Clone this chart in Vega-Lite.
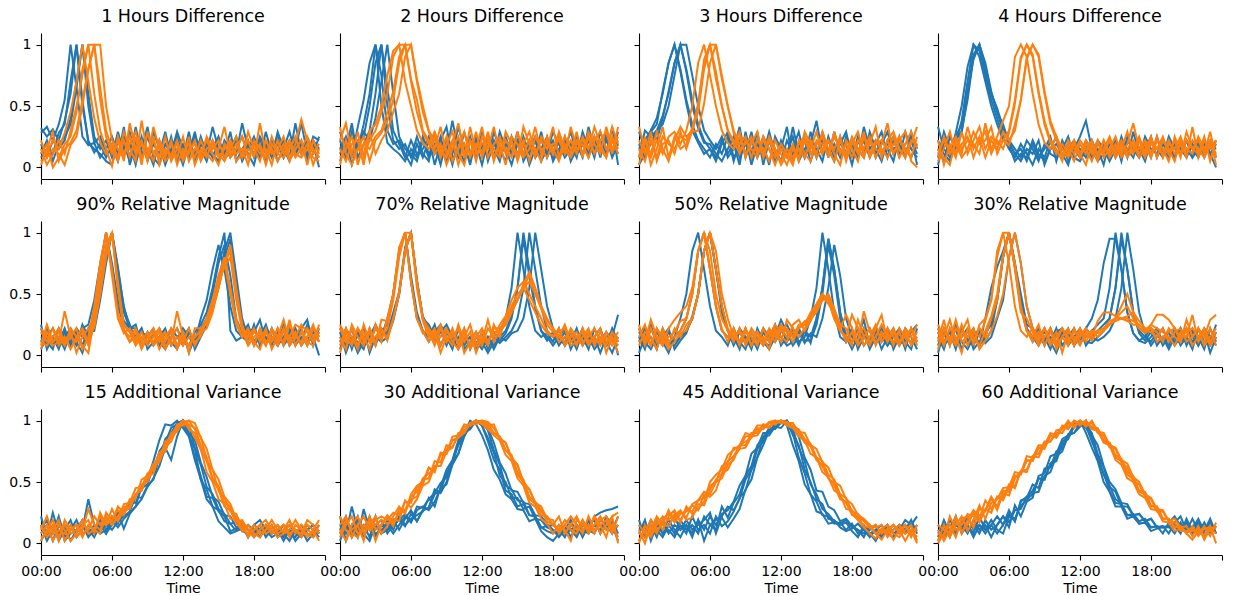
{
"$schema":"https://vega.github.io/schema/vega-lite/v6.json",
"background":"white",
"padding":{"left":8,"top":7,"right":5,"bottom":5},
"bounds":"flush",
"columns":4,
"spacing":{"row":42,"column":15},
"datasets":{
"p1":[
{"t":0,"a":0.28,"b":0.32,"c":0.08,"d":0.19,"e":0.11,"f":0.05,"g":0.15,"h":0.11,"i":0.02,"j":0.22},
{"t":0.5,"a":0.33,"b":0.25,"c":0.15,"d":0.08,"e":0.22,"f":0.11,"g":0.02,"h":0.19,"i":0.15,"j":0.08},
{"t":1,"a":0.22,"b":0.31,"c":0.11,"d":0.22,"e":0.05,"f":0.22,"g":0.11,"h":0,"i":0.29,"j":0.15},
{"t":1.5,"a":0.35,"b":0.22,"c":0.28,"d":0.15,"e":0.19,"f":0.15,"g":0.22,"h":0.08,"i":0.05,"j":0.11},
{"t":2,"a":0.55,"b":0.38,"c":0.35,"d":0.22,"e":0.25,"f":0.28,"g":0.11,"h":0.19,"i":0.15,"j":0.02},
{"t":2.5,"a":1,"b":0.6,"c":0.7,"d":0.4,"e":0.35,"f":0.45,"g":0.3,"h":0.25,"i":0.2,"j":0.18},
{"t":3,"a":0.65,"b":1,"c":1,"d":0.7,"e":0.65,"f":0.7,"g":0.5,"h":0.45,"i":0.3,"j":0.25},
{"t":3.5,"a":0.25,"b":0.55,"c":0.5,"d":1,"e":1,"f":1,"g":0.75,"h":0.8,"i":0.55,"j":0.5},
{"t":4,"a":0.18,"b":0.2,"c":0.22,"d":0.6,"e":0.5,"f":0.7,"g":1,"h":1,"i":0.8,"j":0.8},
{"t":4.5,"a":0.2,"b":0.15,"c":0.12,"d":0.25,"e":0.2,"f":0.4,"g":0.6,"h":1,"i":1,"j":1},
{"t":5,"a":0.08,"b":0.11,"c":0.19,"d":0.15,"e":0.25,"f":0.2,"g":0.3,"h":0.55,"i":0.65,"j":1},
{"t":5.5,"a":0.15,"b":0.05,"c":0.08,"d":0.22,"e":0.11,"f":0.11,"g":0.15,"h":0.25,"i":0.3,"j":0.5},
{"t":6,"a":0.25,"b":0.02,"c":0.19,"d":0.08,"e":0.15,"f":0.19,"g":0.01,"h":0.11,"i":0.15,"j":0.22},
{"t":6.5,"a":0.11,"b":0.22,"c":0.05,"d":0.29,"e":0.08,"f":0.08,"g":0.25,"h":0.22,"i":0.05,"j":0.15},
{"t":7,"a":0.19,"b":0.15,"c":0.25,"d":0.11,"e":0.33,"f":0.29,"g":0.11,"h":0.05,"i":0.22,"j":0.08},
{"t":7.5,"a":0.05,"b":0.29,"c":0.08,"d":0.19,"e":0.02,"f":0.15,"g":0.19,"h":0.36,"i":0.08,"j":0.25},
{"t":8,"a":0.22,"b":0.08,"c":0.33,"d":0.02,"e":0.19,"f":0.05,"g":0.29,"h":0.15,"i":0.25,"j":0.11},
{"t":8.5,"a":0.15,"b":0.25,"c":0.11,"d":0.22,"e":0.08,"f":0.38,"g":0.08,"h":0.22,"i":0.02,"j":0.19},
{"t":9,"a":0.33,"b":0.05,"c":0.15,"d":0.08,"e":0.25,"f":0.11,"g":0.15,"h":0.05,"i":0.29,"j":0.08},
{"t":9.5,"a":0.08,"b":0.19,"c":0.02,"d":0.29,"e":0.11,"f":0.22,"g":0.05,"h":0.25,"i":0.11,"j":0.33},
{"t":10,"a":0.02,"b":0.11,"c":0.22,"d":0.15,"e":0.19,"f":0.08,"g":0.22,"h":0.02,"i":0.19,"j":0.15},
{"t":10.5,"a":0.19,"b":0.29,"c":0.08,"d":0.05,"e":0.02,"f":0.25,"g":0.11,"h":0.15,"i":0.08,"j":0.05},
{"t":11,"a":0.11,"b":0.08,"c":0.25,"d":0.22,"e":0.15,"f":0.05,"g":0.19,"h":0.08,"i":0.22,"j":0.11},
{"t":11.5,"a":0.29,"b":0.15,"c":0.05,"d":0.11,"e":0.25,"f":0.15,"g":0.08,"h":0.22,"i":0.02,"j":0.19},
{"t":12,"a":0.15,"b":0.02,"c":0.15,"d":0.19,"e":0.08,"f":0.11,"g":0.25,"h":0.05,"i":0.15,"j":0.08},
{"t":12.5,"a":0.22,"b":0.19,"c":0.11,"d":0.08,"e":0.29,"f":0.19,"g":0.05,"h":0.15,"i":0.11,"j":0.25},
{"t":13,"a":0.08,"b":0.11,"c":0.29,"d":0.25,"e":0.05,"f":0.08,"g":0.15,"h":0.19,"i":0.22,"j":0.02},
{"t":13.5,"a":0.25,"b":0.22,"c":0.08,"d":0.15,"e":0.19,"f":0.22,"g":0.11,"h":0.08,"i":0.05,"j":0.15},
{"t":14,"a":0.11,"b":0.15,"c":0.19,"d":0.05,"e":0.11,"f":0.11,"g":0.22,"h":0.25,"i":0.15,"j":0.08},
{"t":14.5,"a":0.33,"b":0.08,"c":0.11,"d":0.22,"e":0.15,"f":0.05,"g":0.11,"h":0.15,"i":0.19,"j":0.22},
{"t":15,"a":0.15,"b":0.22,"c":0.05,"d":0.11,"e":0.25,"f":0.15,"g":0.02,"h":0.22,"i":0.08,"j":0.11},
{"t":15.5,"a":0.08,"b":0.11,"c":0.22,"d":0.19,"e":0.08,"f":0.33,"g":0.19,"h":0.08,"i":0.15,"j":0.05},
{"t":16,"a":0.19,"b":0.29,"c":0.15,"d":0.08,"e":0.11,"f":0.11,"g":0.08,"h":0.19,"i":0.22,"j":0.15},
{"t":16.5,"a":0.11,"b":0.05,"c":0.25,"d":0.15,"e":0.22,"f":0.19,"g":0.15,"h":0.11,"i":0.05,"j":0.25},
{"t":17,"a":0.36,"b":0.15,"c":0.08,"d":0.25,"e":0.05,"f":0.08,"g":0.25,"h":0.15,"i":0.11,"j":0.08},
{"t":17.5,"a":0.15,"b":0.22,"c":0.19,"d":0.11,"e":0.15,"f":0.29,"g":0.08,"h":0.02,"i":0.22,"j":0.15},
{"t":18,"a":0.22,"b":0.08,"c":0.11,"d":0.02,"e":0.25,"f":0.15,"g":0.19,"h":0.22,"i":0.08,"j":0.11},
{"t":18.5,"a":0.08,"b":0.25,"c":0.15,"d":0.22,"e":0.11,"f":0.05,"g":0.11,"h":0.15,"i":0.36,"j":0.19},
{"t":19,"a":0.29,"b":0.15,"c":0.05,"d":0.11,"e":0.19,"f":0.22,"g":0.15,"h":0.08,"i":0.11,"j":0.02},
{"t":19.5,"a":0.11,"b":0.22,"c":0.22,"d":0.15,"e":0.08,"f":0.11,"g":0.02,"h":0.25,"i":0.15,"j":0.19},
{"t":20,"a":0.19,"b":0.05,"c":0.11,"d":0.25,"e":0.29,"f":0.15,"g":0.22,"h":0.11,"i":0.05,"j":0.11},
{"t":20.5,"a":0.08,"b":0.15,"c":0.22,"d":0.08,"e":0.15,"f":0.25,"g":0.11,"h":0.19,"i":0.15,"j":0.08},
{"t":21,"a":0.22,"b":0.29,"c":0.08,"d":0.19,"e":0.05,"f":0.08,"g":0.19,"h":0.05,"i":0.22,"j":0.15},
{"t":21.5,"a":0.15,"b":0.11,"c":0.36,"d":0.11,"e":0.22,"f":0.19,"g":0.08,"h":0.15,"i":0.11,"j":0.25},
{"t":22,"a":0.36,"b":0.19,"c":0.11,"d":0.22,"e":0.15,"f":0.39,"g":0.15,"h":0.22,"i":0.08,"j":0.11},
{"t":22.5,"a":0.11,"b":0.08,"c":0.22,"d":0.05,"e":0.08,"f":0.22,"g":0.25,"h":0.02,"i":0.15,"j":0.19},
{"t":23,"a":0.19,"b":0.25,"c":0.15,"d":0.22,"e":0.11,"f":0.11,"g":0.15,"h":0.22,"i":0.08,"j":0.02},
{"t":23.5,"a":0,"b":0.22,"c":0.08,"d":0.15,"e":0.25,"f":0.19,"g":0.08,"h":0.11,"i":0.05,"j":0.15}
],
"p2":[
{"t":0,"a":0.15,"b":0.22,"c":0.05,"d":0.29,"e":0.11,"f":0.22,"g":0.08,"h":0.33,"i":0.15,"j":0.02},
{"t":0.5,"a":0.25,"b":0.08,"c":0.19,"d":0.15,"e":0.22,"f":0.36,"g":0.15,"h":0.11,"i":0.05,"j":0.22},
{"t":1,"a":0.08,"b":0.29,"c":0.11,"d":0.36,"e":0.02,"f":0.11,"g":0.25,"h":0.02,"i":0.19,"j":0.08},
{"t":1.5,"a":0.33,"b":0.15,"c":0.22,"d":0.08,"e":0.19,"f":0.29,"g":0.02,"h":0.15,"i":0.22,"j":0.15},
{"t":2,"a":0.55,"b":0.35,"c":0.25,"d":0.19,"e":0.29,"f":0.08,"g":0.19,"h":0.25,"i":0.02,"j":0.11},
{"t":2.5,"a":0.85,"b":0.6,"c":0.5,"d":0.3,"e":0.22,"f":0.22,"g":0.15,"h":0.05,"i":0.29,"j":0.3},
{"t":3,"a":1,"b":1,"c":0.85,"d":0.6,"e":0.4,"f":0.3,"g":0.25,"h":0.22,"i":0.11,"j":0.35},
{"t":3.5,"a":0.5,"b":0.75,"c":1,"d":1,"e":0.7,"f":0.45,"g":0.3,"h":0.28,"i":0.22,"j":0.5},
{"t":4,"a":0.2,"b":0.3,"c":0.5,"d":0.65,"e":1,"f":0.6,"g":0.45,"h":0.38,"i":0.3,"j":0.75},
{"t":4.5,"a":0.15,"b":0.19,"c":0.22,"d":0.3,"e":0.6,"f":0.9,"g":0.62,"h":0.55,"i":0.45,"j":0.95},
{"t":5,"a":0.11,"b":0.22,"c":0.15,"d":0.19,"e":0.25,"f":1,"g":0.9,"h":0.85,"i":0.6,"j":1},
{"t":5.5,"a":0.05,"b":0.11,"c":0.19,"d":0.08,"e":0.15,"f":0.7,"g":1,"h":1,"i":0.9,"j":1},
{"t":6,"a":0.15,"b":0.02,"c":0.08,"d":0.22,"e":0.11,"f":0.5,"g":0.72,"h":1,"i":1,"j":0.7},
{"t":6.5,"a":0.08,"b":0.19,"c":0.25,"d":0.11,"e":0.05,"f":0.3,"g":0.55,"h":0.7,"i":0.72,"j":0.45},
{"t":7,"a":0.25,"b":0.08,"c":0.11,"d":0.15,"e":0.22,"f":0.2,"g":0.3,"h":0.45,"i":0.5,"j":0.28},
{"t":7.5,"a":0.11,"b":0.22,"c":0.05,"d":0.25,"e":0.08,"f":0.15,"g":0.22,"h":0.29,"i":0.3,"j":0.19},
{"t":8,"a":0.19,"b":0.11,"c":0.29,"d":0.02,"e":0.15,"f":0.25,"g":0.11,"h":0.15,"i":0.22,"j":0.29},
{"t":8.5,"a":0.02,"b":0.25,"c":0.08,"d":0.19,"e":0.22,"f":0.08,"g":0.19,"h":0.33,"i":0.11,"j":0.15},
{"t":9,"a":0.22,"b":0.05,"c":0.19,"d":0.11,"e":0.33,"f":0.19,"g":0.02,"h":0.11,"i":0.25,"j":0.08},
{"t":9.5,"a":0.11,"b":0.15,"c":0.02,"d":0.38,"e":0.08,"f":0.29,"g":0.15,"h":0.22,"i":0.05,"j":0.19},
{"t":10,"a":0.33,"b":0.08,"c":0.22,"d":0.15,"e":0.11,"f":0.11,"g":0.25,"h":0.02,"i":0.15,"j":0.36},
{"t":10.5,"a":0.15,"b":0.29,"c":0.11,"d":0.05,"e":0.19,"f":0.02,"g":0.08,"h":0.19,"i":0.29,"j":0.11},
{"t":11,"a":0.05,"b":0.11,"c":0.25,"d":0.22,"e":0.02,"f":0.22,"g":0.33,"h":0.11,"i":0.08,"j":0.22},
{"t":11.5,"a":0.22,"b":0.19,"c":0.08,"d":0.11,"e":0.25,"f":0.15,"g":0.11,"h":0.29,"i":0.19,"j":0.05},
{"t":12,"a":0.11,"b":0.02,"c":0.29,"d":0.19,"e":0.15,"f":0.33,"g":0.19,"h":0.08,"i":0.11,"j":0.25},
{"t":12.5,"a":0.25,"b":0.22,"c":0.05,"d":0.08,"e":0.11,"f":0.08,"g":0.25,"h":0.22,"i":0.29,"j":0.15},
{"t":13,"a":0.08,"b":0.15,"c":0.19,"d":0.29,"e":0.22,"f":0.19,"g":0.05,"h":0.15,"i":0.08,"j":0.33},
{"t":13.5,"a":0.29,"b":0.05,"c":0.11,"d":0.15,"e":0.08,"f":0.25,"g":0.22,"h":0.08,"i":0.19,"j":0.11},
{"t":14,"a":0.15,"b":0.25,"c":0.22,"d":0.05,"e":0.19,"f":0.11,"g":0.15,"h":0.29,"i":0.02,"j":0.22},
{"t":14.5,"a":0.02,"b":0.11,"c":0.15,"d":0.25,"e":0.11,"f":0.22,"g":0.08,"h":0.19,"i":0.25,"j":0.15},
{"t":15,"a":0.19,"b":0.22,"c":0.08,"d":0.11,"e":0.29,"f":0.05,"g":0.29,"h":0.11,"i":0.19,"j":0.08},
{"t":15.5,"a":0.11,"b":0.08,"c":0.25,"d":0.19,"e":0.05,"f":0.19,"g":0.11,"h":0.22,"i":0.08,"j":0.33},
{"t":16,"a":0.22,"b":0.19,"c":0.11,"d":0.02,"e":0.15,"f":0.29,"g":0.22,"h":0.05,"i":0.15,"j":0.19},
{"t":16.5,"a":0.08,"b":0.11,"c":0.22,"d":0.15,"e":0.25,"f":0.11,"g":0.15,"h":0.25,"i":0.33,"j":0.08},
{"t":17,"a":0.15,"b":0.29,"c":0.05,"d":0.22,"e":0.11,"f":0.22,"g":0.05,"h":0.15,"i":0.11,"j":0.25},
{"t":17.5,"a":0.25,"b":0.08,"c":0.15,"d":0.11,"e":0.19,"f":0.15,"g":0.25,"h":0.08,"i":0.22,"j":0.19},
{"t":18,"a":0.05,"b":0.19,"c":0.22,"d":0.29,"e":0.08,"f":0.33,"g":0.11,"h":0.19,"i":0.15,"j":0.11},
{"t":18.5,"a":0.15,"b":0.11,"c":0.08,"d":0.19,"e":0.22,"f":0.08,"g":0.29,"h":0.22,"i":0.05,"j":0.25},
{"t":19,"a":0.22,"b":0.25,"c":0.15,"d":0.08,"e":0.11,"f":0.25,"g":0.15,"h":0.11,"i":0.19,"j":0.15},
{"t":19.5,"a":0.11,"b":0.05,"c":0.29,"d":0.15,"e":0.19,"f":0.15,"g":0.22,"h":0.33,"i":0.11,"j":0.08},
{"t":20,"a":0.19,"b":0.15,"c":0.11,"d":0.25,"e":0.08,"f":0.22,"g":0.11,"h":0.15,"i":0.29,"j":0.19},
{"t":20.5,"a":0.08,"b":0.22,"c":0.19,"d":0.11,"e":0.29,"f":0.11,"g":0.25,"h":0.19,"i":0.08,"j":0.22},
{"t":21,"a":0.33,"b":0.11,"c":0.08,"d":0.22,"e":0.15,"f":0.29,"g":0.15,"h":0.08,"i":0.25,"j":0.15},
{"t":21.5,"a":0.15,"b":0.25,"c":0.22,"d":0.08,"e":0.19,"f":0.19,"g":0.33,"h":0.22,"i":0.11,"j":0.25},
{"t":22,"a":0.22,"b":0.08,"c":0.15,"d":0.29,"e":0.11,"f":0.11,"g":0.19,"h":0.29,"i":0.22,"j":0.15},
{"t":22.5,"a":0.11,"b":0.29,"c":0.25,"d":0.15,"e":0.22,"f":0.33,"g":0.08,"h":0.15,"i":0.29,"j":0.08},
{"t":23,"a":0.33,"b":0.15,"c":0.08,"d":0.22,"e":0.11,"f":0.15,"g":0.25,"h":0.22,"i":0.11,"j":0.33},
{"t":23.5,"a":0.02,"b":0.22,"c":0.19,"d":0.11,"e":0.29,"f":0.25,"g":0.15,"h":0.11,"i":0.33,"j":0.19}
],
"p3":[
{"t":0,"a":0.15,"b":0.08,"c":0.29,"d":0.02,"e":0.19,"f":0.33,"g":0.02,"h":0.15,"i":0.08,"j":0.22},
{"t":0.5,"a":0.22,"b":0.3,"c":0.15,"d":0.11,"e":0.08,"f":0.15,"g":0.22,"h":0.05,"i":0.25,"j":0.11},
{"t":1,"a":0.3,"b":0.25,"c":0.3,"d":0.19,"e":0.29,"f":0.08,"g":0.11,"h":0.22,"i":0.02,"j":0.29},
{"t":1.5,"a":0.4,"b":0.3,"c":0.22,"d":0.3,"e":0.35,"f":0.22,"g":0.29,"h":0.08,"i":0.15,"j":0.05},
{"t":2,"a":0.6,"b":0.42,"c":0.4,"d":0.35,"e":0.62,"f":0.11,"g":0.15,"h":0.25,"i":0.33,"j":0.19},
{"t":2.5,"a":0.85,"b":0.6,"c":0.62,"d":0.5,"e":0.85,"f":0.25,"g":0.05,"h":0.19,"i":0.08,"j":0.22},
{"t":3,"a":1,"b":0.85,"c":0.85,"d":0.75,"e":1,"f":0.29,"g":0.22,"h":0.15,"i":0.25,"j":0.11},
{"t":3.5,"a":0.8,"b":1,"c":1,"d":1,"e":0.78,"f":0.19,"g":0.33,"h":0.25,"i":0.15,"j":0.29},
{"t":4,"a":0.55,"b":0.8,"c":0.78,"d":1,"e":0.52,"f":0.3,"g":0.25,"h":0.22,"i":0.19,"j":0.15},
{"t":4.5,"a":0.35,"b":0.55,"c":0.5,"d":0.75,"e":0.3,"f":0.5,"g":0.3,"h":0.32,"i":0.29,"j":0.3},
{"t":5,"a":0.22,"b":0.35,"c":0.32,"d":0.5,"e":0.2,"f":0.85,"g":0.52,"h":0.5,"i":0.3,"j":0.45},
{"t":5.5,"a":0.15,"b":0.22,"c":0.2,"d":0.3,"e":0.11,"f":1,"g":0.85,"h":0.88,"i":0.52,"j":0.8},
{"t":6,"a":0.08,"b":0.15,"c":0.19,"d":0.22,"e":0.15,"f":0.75,"g":1,"h":1,"i":0.85,"j":1},
{"t":6.5,"a":0.19,"b":0.08,"c":0.11,"d":0.15,"e":0.05,"f":0.5,"g":0.72,"h":0.78,"i":1,"j":1},
{"t":7,"a":0.11,"b":0.22,"c":0.05,"d":0.25,"e":0.19,"f":0.3,"g":0.5,"h":0.5,"i":0.75,"j":0.72},
{"t":7.5,"a":0.25,"b":0.11,"c":0.15,"d":0.08,"e":0.29,"f":0.2,"g":0.3,"h":0.3,"i":0.5,"j":0.5},
{"t":8,"a":0.05,"b":0.19,"c":0.25,"d":0.15,"e":0.08,"f":0.15,"g":0.22,"h":0.19,"i":0.3,"j":0.28},
{"t":8.5,"a":0.22,"b":0.02,"c":0.08,"d":0.33,"e":0.15,"f":0.25,"g":0.11,"h":0.29,"i":0.19,"j":0.15},
{"t":9,"a":0.11,"b":0.29,"c":0.19,"d":0.08,"e":0.25,"f":0.11,"g":0.22,"h":0.08,"i":0.25,"j":0.19},
{"t":9.5,"a":0.29,"b":0.08,"c":0.11,"d":0.22,"e":0.02,"f":0.19,"g":0.15,"h":0.22,"i":0.08,"j":0.25},
{"t":10,"a":0.08,"b":0.22,"c":0.29,"d":0.11,"e":0.19,"f":0.29,"g":0.08,"h":0.15,"i":0.22,"j":0.11},
{"t":10.5,"a":0.19,"b":0.11,"c":0.02,"d":0.25,"e":0.11,"f":0.08,"g":0.25,"h":0.11,"i":0.15,"j":0.22},
{"t":11,"a":0.02,"b":0.25,"c":0.22,"d":0.15,"e":0.29,"f":0.22,"g":0.15,"h":0.25,"i":0.05,"j":0.15},
{"t":11.5,"a":0.25,"b":0.15,"c":0.08,"d":0.05,"e":0.11,"f":0.11,"g":0.02,"h":0.15,"i":0.22,"j":0.08},
{"t":12,"a":0.15,"b":0.05,"c":0.19,"d":0.22,"e":0.15,"f":0.05,"g":0.15,"h":0.02,"i":0.11,"j":0.19},
{"t":12.5,"a":0.08,"b":0.22,"c":0.11,"d":0.11,"e":0.33,"f":0.15,"g":0.08,"h":0.11,"i":0.02,"j":0.11},
{"t":13,"a":0.33,"b":0.11,"c":0.25,"d":0.15,"e":0.05,"f":0.08,"g":0.19,"h":0.05,"i":0.15,"j":0.02},
{"t":13.5,"a":0.11,"b":0.19,"c":0.05,"d":0.29,"e":0.19,"f":0.19,"g":0.05,"h":0.15,"i":0.08,"j":0.22},
{"t":14,"a":0.22,"b":0.08,"c":0.15,"d":0.08,"e":0.25,"f":0.25,"g":0.22,"h":0.08,"i":0.29,"j":0.11},
{"t":14.5,"a":0.05,"b":0.29,"c":0.22,"d":0.19,"e":0.11,"f":0.15,"g":0.11,"h":0.22,"i":0.19,"j":0.05},
{"t":15,"a":0.19,"b":0.11,"c":0.08,"d":0.38,"e":0.15,"f":0.29,"g":0.19,"h":0.11,"i":0.08,"j":0.22},
{"t":15.5,"a":0.25,"b":0.22,"c":0.29,"d":0.11,"e":0.05,"f":0.11,"g":0.25,"h":0.29,"i":0.15,"j":0.19},
{"t":16,"a":0.08,"b":0.15,"c":0.11,"d":0.22,"e":0.25,"f":0.22,"g":0.08,"h":0.15,"i":0.22,"j":0.11},
{"t":16.5,"a":0.29,"b":0.05,"c":0.19,"d":0.08,"e":0.11,"f":0.15,"g":0.29,"h":0.05,"i":0.11,"j":0.25},
{"t":17,"a":0.11,"b":0.25,"c":0.08,"d":0.19,"e":0.22,"f":0.25,"g":0.11,"h":0.22,"i":0.02,"j":0.15},
{"t":17.5,"a":0.19,"b":0.11,"c":0.25,"d":0.29,"e":0.08,"f":0.05,"g":0.19,"h":0.11,"i":0.22,"j":0.08},
{"t":18,"a":0.02,"b":0.19,"c":0.15,"d":0.08,"e":0.19,"f":0.22,"g":0.08,"h":0.25,"i":0.15,"j":0.19},
{"t":18.5,"a":0.22,"b":0.08,"c":0.11,"d":0.25,"e":0.15,"f":0.11,"g":0.22,"h":0.15,"i":0.05,"j":0.29},
{"t":19,"a":0.11,"b":0.33,"c":0.22,"d":0.15,"e":0.08,"f":0.29,"g":0.15,"h":0.08,"i":0.25,"j":0.11},
{"t":19.5,"a":0.25,"b":0.15,"c":0.08,"d":0.22,"e":0.29,"f":0.08,"g":0.25,"h":0.22,"i":0.11,"j":0.19},
{"t":20,"a":0.08,"b":0.22,"c":0.19,"d":0.11,"e":0.15,"f":0.19,"g":0.08,"h":0.15,"i":0.22,"j":0.33},
{"t":20.5,"a":0.19,"b":0.11,"c":0.29,"d":0.22,"e":0.05,"f":0.22,"g":0.19,"h":0.11,"i":0.15,"j":0.08},
{"t":21,"a":0.29,"b":0.19,"c":0.08,"d":0.15,"e":0.22,"f":0.15,"g":0.36,"h":0.22,"i":0.08,"j":0.22},
{"t":21.5,"a":0.11,"b":0.25,"c":0.22,"d":0.05,"e":0.15,"f":0.25,"g":0.11,"h":0.29,"i":0.19,"j":0.11},
{"t":22,"a":0.22,"b":0.08,"c":0.11,"d":0.25,"e":0.19,"f":0.08,"g":0.22,"h":0.15,"i":0.25,"j":0.22},
{"t":22.5,"a":0.15,"b":0.29,"c":0.19,"d":0.11,"e":0.08,"f":0.19,"g":0.15,"h":0.08,"i":0.11,"j":0.29},
{"t":23,"a":0.08,"b":0.15,"c":0.25,"d":0.22,"e":0.29,"f":0.29,"g":0.08,"h":0.22,"i":0.19,"j":0.05},
{"t":23.5,"a":0.19,"b":0.08,"c":0.02,"d":0.11,"e":0.15,"f":0.15,"g":0.25,"h":0.19,"i":0.33,"j":0}
],
"p4":[
{"t":0,"a":0.22,"b":0.08,"c":0.15,"d":0.33,"e":0.02,"f":0.11,"g":0.22,"h":0.05,"i":0.15,"j":0.08},
{"t":0.5,"a":0.11,"b":0.29,"c":0.05,"d":0.15,"e":0.22,"f":0.22,"g":0.02,"h":0.15,"i":0.08,"j":0.25},
{"t":1,"a":0.05,"b":0.15,"c":0.25,"d":0.08,"e":0.11,"f":0.15,"g":0.19,"h":0.29,"i":0.02,"j":0.11},
{"t":1.5,"a":0.2,"b":0.22,"c":0.15,"d":0.25,"e":0.28,"f":0.25,"g":0.08,"h":0.11,"i":0.22,"j":0.19},
{"t":2,"a":0.38,"b":0.3,"c":0.28,"d":0.35,"e":0.5,"f":0.15,"g":0.29,"h":0.19,"i":0.11,"j":0.08},
{"t":2.5,"a":0.7,"b":0.55,"c":0.6,"d":0.62,"e":0.82,"f":0.22,"g":0.11,"h":0.25,"i":0.33,"j":0.15},
{"t":3,"a":1,"b":0.9,"c":0.92,"d":0.88,"e":1,"f":0.19,"g":0.22,"h":0.08,"i":0.15,"j":0.29},
{"t":3.5,"a":0.95,"b":1,"c":1,"d":1,"e":0.9,"f":0.11,"g":0.33,"h":0.22,"i":0.25,"j":0.19},
{"t":4,"a":0.75,"b":0.85,"c":0.82,"d":0.78,"e":0.7,"f":0.36,"g":0.15,"h":0.29,"i":0.08,"j":0.22},
{"t":4.5,"a":0.55,"b":0.62,"c":0.6,"d":0.6,"e":0.5,"f":0.15,"g":0.25,"h":0.11,"i":0.22,"j":0.33},
{"t":5,"a":0.4,"b":0.45,"c":0.48,"d":0.45,"e":0.35,"f":0.25,"g":0.19,"h":0.22,"i":0.15,"j":0.11},
{"t":5.5,"a":0.25,"b":0.3,"c":0.32,"d":0.35,"e":0.22,"f":0.38,"g":0.22,"h":0.15,"i":0.29,"j":0.22},
{"t":6,"a":0.15,"b":0.2,"c":0.22,"d":0.2,"e":0.18,"f":0.5,"g":0.3,"h":0.28,"i":0.22,"j":0.18},
{"t":6.5,"a":0.08,"b":0.11,"c":0.15,"d":0.11,"e":0.05,"f":0.9,"g":0.55,"h":0.52,"i":0.3,"j":0.35},
{"t":7,"a":0.19,"b":0.05,"c":0.08,"d":0.15,"e":0.11,"f":1,"g":0.9,"h":0.88,"i":0.55,"j":0.55},
{"t":7.5,"a":0.11,"b":0.15,"c":0.22,"d":0.05,"e":0.08,"f":0.9,"g":1,"h":1,"i":0.9,"j":0.88},
{"t":8,"a":0.02,"b":0.11,"c":0.15,"d":0.19,"e":0.22,"f":0.6,"g":0.9,"h":0.92,"i":1,"j":1},
{"t":8.5,"a":0.15,"b":0.22,"c":0.05,"d":0.08,"e":0.11,"f":0.35,"g":0.6,"h":0.62,"i":0.9,"j":0.92},
{"t":9,"a":0.08,"b":0.02,"c":0.19,"d":0.15,"e":0.05,"f":0.2,"g":0.35,"h":0.38,"i":0.6,"j":0.62},
{"t":9.5,"a":0.22,"b":0.15,"c":0.11,"d":0.25,"e":0.15,"f":0.15,"g":0.2,"h":0.22,"i":0.35,"j":0.38},
{"t":10,"a":0.11,"b":0.25,"c":0.08,"d":0.05,"e":0.19,"f":0.25,"g":0.11,"h":0.15,"i":0.22,"j":0.25},
{"t":10.5,"a":0.19,"b":0.08,"c":0.15,"d":0.22,"e":0.11,"f":0.08,"g":0.19,"h":0.05,"i":0.11,"j":0.15},
{"t":11,"a":0.05,"b":0.15,"c":0.25,"d":0.11,"e":0.02,"f":0.19,"g":0.11,"h":0.22,"i":0.15,"j":0.08},
{"t":11.5,"a":0.15,"b":0.22,"c":0.08,"d":0.15,"e":0.19,"f":0.11,"g":0.22,"h":0.15,"i":0.05,"j":0.19},
{"t":12,"a":0.25,"b":0.11,"c":0.05,"d":0.08,"e":0.15,"f":0.22,"g":0.08,"h":0.11,"i":0.19,"j":0.11},
{"t":12.5,"a":0.38,"b":0.19,"c":0.15,"d":0.22,"e":0.08,"f":0.15,"g":0.19,"h":0.02,"i":0.11,"j":0.22},
{"t":13,"a":0.15,"b":0.08,"c":0.11,"d":0.15,"e":0.22,"f":0.05,"g":0.11,"h":0.19,"i":0.22,"j":0.15},
{"t":13.5,"a":0.08,"b":0.15,"c":0.22,"d":0.05,"e":0.11,"f":0.19,"g":0.22,"h":0.11,"i":0.08,"j":0.05},
{"t":14,"a":0.19,"b":0.02,"c":0.15,"d":0.11,"e":0.15,"f":0.11,"g":0.08,"h":0.22,"i":0.15,"j":0.22},
{"t":14.5,"a":0.11,"b":0.22,"c":0.08,"d":0.19,"e":0.05,"f":0.22,"g":0.15,"h":0.08,"i":0.25,"j":0.11},
{"t":15,"a":0.22,"b":0.11,"c":0.19,"d":0.08,"e":0.15,"f":0.08,"g":0.25,"h":0.15,"i":0.11,"j":0.19},
{"t":15.5,"a":0.05,"b":0.19,"c":0.11,"d":0.25,"e":0.22,"f":0.15,"g":0.11,"h":0.22,"i":0.19,"j":0.08},
{"t":16,"a":0.25,"b":0.15,"c":0.22,"d":0.11,"e":0.08,"f":0.29,"g":0.19,"h":0.11,"i":0.08,"j":0.15},
{"t":16.5,"a":0.15,"b":0.08,"c":0.15,"d":0.19,"e":0.29,"f":0.11,"g":0.36,"h":0.19,"i":0.15,"j":0.22},
{"t":17,"a":0.08,"b":0.22,"c":0.08,"d":0.15,"e":0.11,"f":0.22,"g":0.15,"h":0.08,"i":0.25,"j":0.11},
{"t":17.5,"a":0.19,"b":0.15,"c":0.25,"d":0.05,"e":0.19,"f":0.08,"g":0.22,"h":0.15,"i":0.11,"j":0.19},
{"t":18,"a":0.11,"b":0.25,"c":0.15,"d":0.22,"e":0.08,"f":0.19,"g":0.11,"h":0.25,"i":0.22,"j":0.08},
{"t":18.5,"a":0.22,"b":0.08,"c":0.11,"d":0.15,"e":0.25,"f":0.15,"g":0.25,"h":0.08,"i":0.15,"j":0.22},
{"t":19,"a":0.15,"b":0.19,"c":0.22,"d":0.08,"e":0.11,"f":0.25,"g":0.08,"h":0.22,"i":0.11,"j":0.15},
{"t":19.5,"a":0.08,"b":0.11,"c":0.15,"d":0.25,"e":0.19,"f":0.11,"g":0.19,"h":0.15,"i":0.22,"j":0.05},
{"t":20,"a":0.19,"b":0.22,"c":0.08,"d":0.15,"e":0.08,"f":0.22,"g":0.15,"h":0.05,"i":0.11,"j":0.25},
{"t":20.5,"a":0.11,"b":0.15,"c":0.19,"d":0.11,"e":0.22,"f":0.08,"g":0.25,"h":0.22,"i":0.19,"j":0.11},
{"t":21,"a":0.22,"b":0.08,"c":0.15,"d":0.22,"e":0.15,"f":0.29,"g":0.11,"h":0.15,"i":0.08,"j":0.22},
{"t":21.5,"a":0.08,"b":0.19,"c":0.11,"d":0.15,"e":0.08,"f":0.15,"g":0.22,"h":0.11,"i":0.33,"j":0.15},
{"t":22,"a":0.15,"b":0.11,"c":0.22,"d":0.08,"e":0.19,"f":0.11,"g":0.15,"h":0.25,"i":0.08,"j":0.22},
{"t":22.5,"a":0.22,"b":0.15,"c":0.08,"d":0.19,"e":0.11,"f":0.25,"g":0.08,"h":0.15,"i":0.22,"j":0.11},
{"t":23,"a":0.11,"b":0.22,"c":0.19,"d":0.11,"e":0.15,"f":0.05,"g":0.19,"h":0.22,"i":0.15,"j":0.29},
{"t":23.5,"a":0.19,"b":0.08,"c":0.15,"d":0,"e":0.22,"f":0.22,"g":0.11,"h":0.02,"i":0.22,"j":0.08}
],
"p5":[
{"t":0,"a":0.11,"b":0.22,"c":0.05,"d":0.15,"e":0.25,"f":0.08,"g":0.19,"h":0.11,"i":0.22,"j":0.05},
{"t":0.5,"a":0.22,"b":0.08,"c":0.15,"d":0.11,"e":0.05,"f":0.25,"g":0.11,"h":0.08,"i":0.15,"j":0.19},
{"t":1,"a":0.08,"b":0.15,"c":0.22,"d":0.05,"e":0.15,"f":0.11,"g":0.22,"h":0.15,"i":0.08,"j":0.11},
{"t":1.5,"a":0.15,"b":0.05,"c":0.11,"d":0.22,"e":0.08,"f":0.19,"g":0.08,"h":0.22,"i":0.11,"j":0.15},
{"t":2,"a":0.05,"b":0.19,"c":0.22,"d":0.11,"e":0.15,"f":0.08,"g":0.15,"h":0.11,"i":0.36,"j":0.08},
{"t":2.5,"a":0.19,"b":0.11,"c":0.08,"d":0.15,"e":0.22,"f":0.15,"g":0.05,"h":0.19,"i":0.15,"j":0.22},
{"t":3,"a":0.11,"b":0.22,"c":0.19,"d":0.08,"e":0.11,"f":0.22,"g":0.15,"h":0.02,"i":0.11,"j":0.15},
{"t":3.5,"a":0.22,"b":0.15,"c":0.08,"d":0.25,"e":0.02,"f":0.05,"g":0.22,"h":0.15,"i":0.19,"j":0.08},
{"t":4,"a":0.25,"b":0.11,"c":0.22,"d":0.15,"e":0.19,"f":0.15,"g":0.11,"h":0.22,"i":0.08,"j":0.02},
{"t":4.5,"a":0.45,"b":0.25,"c":0.28,"d":0.35,"e":0.2,"f":0.4,"g":0.35,"h":0.22,"i":0.25,"j":0.3},
{"t":5,"a":0.75,"b":0.5,"c":0.55,"d":0.7,"e":0.45,"f":0.75,"g":0.7,"h":0.5,"i":0.5,"j":0.6},
{"t":5.5,"a":1,"b":0.8,"c":0.8,"d":1,"e":0.75,"f":1,"g":1,"h":0.8,"i":0.85,"j":0.9},
{"t":6,"a":0.7,"b":1,"c":1,"d":0.75,"e":1,"f":0.65,"g":0.7,"h":1,"i":1,"j":1},
{"t":6.5,"a":0.4,"b":0.7,"c":0.72,"d":0.45,"e":0.65,"f":0.3,"g":0.35,"h":0.55,"i":0.6,"j":0.55},
{"t":7,"a":0.25,"b":0.4,"c":0.38,"d":0.28,"e":0.35,"f":0.18,"g":0.2,"h":0.2,"i":0.25,"j":0.22},
{"t":7.5,"a":0.19,"b":0.22,"c":0.25,"d":0.22,"e":0.22,"f":0.22,"g":0.11,"h":0.15,"i":0.19,"j":0.11},
{"t":8,"a":0.15,"b":0.22,"c":0.11,"d":0.25,"e":0.15,"f":0.11,"g":0.15,"h":0.22,"i":0.08,"j":0.19},
{"t":8.5,"a":0.22,"b":0.11,"c":0.19,"d":0.08,"e":0.22,"f":0.19,"g":0.08,"h":0.11,"i":0.15,"j":0.05},
{"t":9,"a":0.08,"b":0.19,"c":0.15,"d":0.11,"e":0.05,"f":0.08,"g":0.15,"h":0.19,"i":0.11,"j":0.15},
{"t":9.5,"a":0.19,"b":0.08,"c":0.22,"d":0.15,"e":0.11,"f":0.15,"g":0.22,"h":0.08,"i":0.19,"j":0.11},
{"t":10,"a":0.11,"b":0.15,"c":0.08,"d":0.22,"e":0.15,"f":0.22,"g":0.11,"h":0.15,"i":0.05,"j":0.19},
{"t":10.5,"a":0.05,"b":0.22,"c":0.19,"d":0.11,"e":0.08,"f":0.11,"g":0.19,"h":0.05,"i":0.15,"j":0.08},
{"t":11,"a":0.15,"b":0.08,"c":0.11,"d":0.19,"e":0.22,"f":0.19,"g":0.08,"h":0.15,"i":0.22,"j":0.11},
{"t":11.5,"a":0.22,"b":0.15,"c":0.05,"d":0.08,"e":0.15,"f":0.05,"g":0.15,"h":0.22,"i":0.08,"j":0.36},
{"t":12,"a":0.11,"b":0.19,"c":0.22,"d":0.15,"e":0.08,"f":0.15,"g":0.11,"h":0.08,"i":0.19,"j":0.15},
{"t":12.5,"a":0.08,"b":0.02,"c":0.15,"d":0.22,"e":0.19,"f":0.08,"g":0.22,"h":0.15,"i":0.02,"j":0.08},
{"t":13,"a":0.19,"b":0.15,"c":0.08,"d":0.05,"e":0.11,"f":0.15,"g":0.08,"h":0.11,"i":0.22,"j":0.15},
{"t":13.5,"a":0.25,"b":0.2,"c":0.22,"d":0.15,"e":0.3,"f":0.2,"g":0.18,"h":0.15,"i":0.22,"j":0.2},
{"t":14,"a":0.35,"b":0.28,"c":0.3,"d":0.25,"e":0.45,"f":0.3,"g":0.22,"h":0.3,"i":0.25,"j":0.28},
{"t":14.5,"a":0.55,"b":0.4,"c":0.5,"d":0.38,"e":0.7,"f":0.45,"g":0.35,"h":0.45,"i":0.38,"j":0.42},
{"t":15,"a":0.8,"b":0.6,"c":0.75,"d":0.55,"e":0.9,"f":0.65,"g":0.55,"h":0.6,"i":0.55,"j":0.6},
{"t":15.5,"a":1,"b":0.85,"c":0.9,"d":0.8,"e":0.7,"f":0.8,"g":0.75,"h":0.75,"i":0.75,"j":0.72},
{"t":16,"a":0.2,"b":1,"c":0.65,"d":0.95,"e":0.4,"f":0.55,"g":0.9,"h":0.5,"i":0.85,"j":0.8},
{"t":16.5,"a":0.12,"b":0.65,"c":0.3,"d":0.55,"e":0.2,"f":0.3,"g":0.55,"h":0.25,"i":0.5,"j":0.45},
{"t":17,"a":0.15,"b":0.3,"c":0.18,"d":0.25,"e":0.15,"f":0.15,"g":0.25,"h":0.15,"i":0.22,"j":0.2},
{"t":17.5,"a":0.22,"b":0.15,"c":0.25,"d":0.19,"e":0.11,"f":0.22,"g":0.11,"h":0.19,"i":0.15,"j":0.08},
{"t":18,"a":0.08,"b":0.19,"c":0.11,"d":0.22,"e":0.25,"f":0.11,"g":0.19,"h":0.08,"i":0.22,"j":0.15},
{"t":18.5,"a":0.15,"b":0.29,"c":0.19,"d":0.11,"e":0.08,"f":0.05,"g":0.15,"h":0.22,"i":0.11,"j":0.19},
{"t":19,"a":0.25,"b":0.11,"c":0.15,"d":0.22,"e":0.19,"f":0.19,"g":0.08,"h":0.11,"i":0.22,"j":0.08},
{"t":19.5,"a":0.11,"b":0.22,"c":0.08,"d":0.15,"e":0.11,"f":0.11,"g":0.22,"h":0.15,"i":0.05,"j":0.19},
{"t":20,"a":0.19,"b":0.08,"c":0.22,"d":0.08,"e":0.15,"f":0.22,"g":0.15,"h":0.08,"i":0.15,"j":0.11},
{"t":20.5,"a":0.08,"b":0.15,"c":0.11,"d":0.25,"e":0.22,"f":0.08,"g":0.29,"h":0.19,"i":0.11,"j":0.22},
{"t":21,"a":0.15,"b":0.22,"c":0.19,"d":0.11,"e":0.08,"f":0.25,"g":0.11,"h":0.15,"i":0.29,"j":0.08},
{"t":21.5,"a":0.22,"b":0.11,"c":0.08,"d":0.19,"e":0.15,"f":0.15,"g":0.19,"h":0.25,"i":0.08,"j":0.15},
{"t":22,"a":0.11,"b":0.19,"c":0.15,"d":0.08,"e":0.22,"f":0.11,"g":0.08,"h":0.22,"i":0.19,"j":0.25},
{"t":22.5,"a":0.25,"b":0.08,"c":0.11,"d":0.15,"e":0.29,"f":0.22,"g":0.15,"h":0.11,"i":0.08,"j":0.19},
{"t":23,"a":0.15,"b":0.22,"c":0.19,"d":0.11,"e":0.08,"f":0.15,"g":0.25,"h":0.08,"i":0.22,"j":0.11},
{"t":23.5,"a":0,"b":0.15,"c":0.11,"d":0.19,"e":0.22,"f":0.22,"g":0.11,"h":0.19,"i":0.15,"j":0.25}
],
"p6":[
{"t":0,"a":0.15,"b":0.05,"c":0.22,"d":0.11,"e":0.19,"f":0.25,"g":0.08,"h":0.15,"i":0.02,"j":0.22},
{"t":0.5,"a":0.08,"b":0.19,"c":0.11,"d":0.22,"e":0.02,"f":0.15,"g":0.22,"h":0.05,"i":0.19,"j":0.11},
{"t":1,"a":0.22,"b":0.11,"c":0.15,"d":0.05,"e":0.15,"f":0.08,"g":0.15,"h":0.25,"i":0.11,"j":0.22},
{"t":1.5,"a":0.05,"b":0.15,"c":0.02,"d":0.19,"e":0.11,"f":0.22,"g":0.05,"h":0.15,"i":0.22,"j":0.08},
{"t":2,"a":0.15,"b":0.22,"c":0.11,"d":0.08,"e":0.05,"f":0.11,"g":0.25,"h":0.08,"i":0.15,"j":0.19},
{"t":2.5,"a":0.11,"b":0.02,"c":0.19,"d":0.15,"e":0.22,"f":0.19,"g":0.11,"h":0.22,"i":0.05,"j":0.11},
{"t":3,"a":0.22,"b":0.15,"c":0.08,"d":0.25,"e":0.11,"f":0.08,"g":0.22,"h":0.11,"i":0.25,"j":0.15},
{"t":3.5,"a":0.19,"b":0.11,"c":0.22,"d":0.15,"e":0.22,"f":0.29,"g":0.15,"h":0.19,"i":0.11,"j":0.22},
{"t":4,"a":0.25,"b":0.15,"c":0.18,"d":0.3,"e":0.15,"f":0.28,"g":0.22,"h":0.15,"i":0.3,"j":0.12},
{"t":4.5,"a":0.5,"b":0.3,"c":0.35,"d":0.5,"e":0.28,"f":0.5,"g":0.45,"h":0.3,"i":0.5,"j":0.3},
{"t":5,"a":0.85,"b":0.5,"c":0.52,"d":0.85,"e":0.5,"f":0.85,"g":0.8,"h":0.52,"i":0.88,"j":0.5},
{"t":5.5,"a":1,"b":0.85,"c":0.88,"d":1,"e":0.85,"f":1,"g":1,"h":0.85,"i":1,"j":0.85},
{"t":6,"a":0.6,"b":1,"c":1,"d":0.65,"e":1,"f":0.6,"g":1,"h":1,"i":0.6,"j":1},
{"t":6.5,"a":0.3,"b":0.6,"c":0.62,"d":0.35,"e":0.6,"f":0.3,"g":0.55,"h":0.6,"i":0.3,"j":0.6},
{"t":7,"a":0.2,"b":0.32,"c":0.3,"d":0.2,"e":0.3,"f":0.18,"g":0.28,"h":0.3,"i":0.2,"j":0.3},
{"t":7.5,"a":0.15,"b":0.22,"c":0.25,"d":0.11,"e":0.22,"f":0.22,"g":0.15,"h":0.22,"i":0.11,"j":0.19},
{"t":8,"a":0.25,"b":0.11,"c":0.15,"d":0.19,"e":0.11,"f":0.11,"g":0.22,"h":0.15,"i":0.19,"j":0.08},
{"t":8.5,"a":0.08,"b":0.19,"c":0.22,"d":0.25,"e":0.15,"f":0.15,"g":0.08,"h":0.25,"i":0.02,"j":0.22},
{"t":9,"a":0.19,"b":0.25,"c":0.08,"d":0.15,"e":0.22,"f":0.22,"g":0.19,"h":0.11,"i":0.15,"j":0.11},
{"t":9.5,"a":0.11,"b":0.15,"c":0.19,"d":0.05,"e":0.08,"f":0.11,"g":0.15,"h":0.22,"i":0.08,"j":0.19},
{"t":10,"a":0.22,"b":0.05,"c":0.11,"d":0.22,"e":0.15,"f":0.05,"g":0.22,"h":0.08,"i":0.25,"j":0.11},
{"t":10.5,"a":0.08,"b":0.15,"c":0.22,"d":0.11,"e":0.05,"f":0.15,"g":0.02,"h":0.19,"i":0.11,"j":0.22},
{"t":11,"a":0.15,"b":0.08,"c":0.05,"d":0.15,"e":0.11,"f":0.25,"g":0.11,"h":0.08,"i":0.19,"j":0.05},
{"t":11.5,"a":0.05,"b":0.11,"c":0.15,"d":0.08,"e":0.19,"f":0.08,"g":0.19,"h":0.15,"i":0.02,"j":0.15},
{"t":12,"a":0.11,"b":0.05,"c":0.08,"d":0.19,"e":0.08,"f":0.19,"g":0.08,"h":0.11,"i":0.15,"j":0.22},
{"t":12.5,"a":0.02,"b":0.15,"c":0.11,"d":0.05,"e":0.15,"f":0.11,"g":0.22,"h":0.29,"i":0.08,"j":0.11},
{"t":13,"a":0.11,"b":0.08,"c":0.19,"d":0.15,"e":0.05,"f":0.22,"g":0.15,"h":0.11,"i":0.25,"j":0.19},
{"t":13.5,"a":0.2,"b":0.15,"c":0.12,"d":0.1,"e":0.15,"f":0.22,"g":0.25,"h":0.2,"i":0.15,"j":0.2},
{"t":14,"a":0.3,"b":0.2,"c":0.18,"d":0.15,"e":0.12,"f":0.28,"g":0.32,"h":0.25,"i":0.3,"j":0.25},
{"t":14.5,"a":0.55,"b":0.32,"c":0.3,"d":0.2,"e":0.18,"f":0.38,"g":0.45,"h":0.35,"i":0.4,"j":0.35},
{"t":15,"a":1,"b":0.55,"c":0.55,"d":0.3,"e":0.2,"f":0.45,"g":0.55,"h":0.45,"i":0.5,"j":0.45},
{"t":15.5,"a":0.7,"b":1,"c":0.95,"d":0.55,"e":0.3,"f":0.55,"g":0.6,"h":0.58,"i":0.55,"j":0.55},
{"t":16,"a":0.4,"b":0.7,"c":0.65,"d":1,"e":0.55,"f":0.65,"g":0.5,"h":0.68,"i":0.45,"j":0.6},
{"t":16.5,"a":0.2,"b":0.4,"c":0.38,"d":0.7,"e":1,"f":0.5,"g":0.4,"h":0.55,"i":0.35,"j":0.5},
{"t":17,"a":0.15,"b":0.2,"c":0.2,"d":0.4,"e":0.7,"f":0.4,"g":0.3,"h":0.4,"i":0.25,"j":0.38},
{"t":17.5,"a":0.18,"b":0.12,"c":0.15,"d":0.2,"e":0.4,"f":0.28,"g":0.2,"h":0.3,"i":0.18,"j":0.25},
{"t":18,"a":0.11,"b":0.19,"c":0.08,"d":0.15,"e":0.22,"f":0.22,"g":0.15,"h":0.22,"i":0.15,"j":0.19},
{"t":18.5,"a":0.22,"b":0.08,"c":0.15,"d":0.11,"e":0.15,"f":0.15,"g":0.19,"h":0.11,"i":0.22,"j":0.15},
{"t":19,"a":0.08,"b":0.15,"c":0.22,"d":0.19,"e":0.08,"f":0.11,"g":0.22,"h":0.15,"i":0.08,"j":0.25},
{"t":19.5,"a":0.15,"b":0.11,"c":0.05,"d":0.08,"e":0.19,"f":0.22,"g":0.08,"h":0.19,"i":0.15,"j":0.11},
{"t":20,"a":0.05,"b":0.22,"c":0.15,"d":0.11,"e":0.11,"f":0.15,"g":0.11,"h":0.08,"i":0.19,"j":0.15},
{"t":20.5,"a":0.19,"b":0.08,"c":0.11,"d":0.22,"e":0.15,"f":0.08,"g":0.15,"h":0.22,"i":0.11,"j":0.19},
{"t":21,"a":0.11,"b":0.15,"c":0.19,"d":0.08,"e":0.05,"f":0.19,"g":0.22,"h":0.11,"i":0.15,"j":0.08},
{"t":21.5,"a":0.15,"b":0.05,"c":0.08,"d":0.15,"e":0.22,"f":0.11,"g":0.08,"h":0.15,"i":0.22,"j":0.15},
{"t":22,"a":0.22,"b":0.11,"c":0.15,"d":0.02,"e":0.11,"f":0.15,"g":0.19,"h":0.08,"i":0.11,"j":0.22},
{"t":22.5,"a":0.08,"b":0.19,"c":0.11,"d":0.15,"e":0.08,"f":0.08,"g":0.11,"h":0.19,"i":0.15,"j":0.02},
{"t":23,"a":0.15,"b":0.11,"c":0.02,"d":0.19,"e":0.22,"f":0.19,"g":0.15,"h":0.11,"i":0.08,"j":0.15},
{"t":23.5,"a":0.33,"b":0.08,"c":0.15,"d":0,"e":0.11,"f":0.11,"g":0.02,"h":0.19,"i":0.15,"j":0.08}
],
"p7":[
{"t":0,"a":0.15,"b":0.11,"c":0.22,"d":0.02,"e":0.19,"f":0.22,"g":0.15,"h":0.08,"i":0.25,"j":0.11},
{"t":0.5,"a":0.05,"b":0.22,"c":0.08,"d":0.15,"e":0.11,"f":0.11,"g":0.25,"h":0.19,"i":0.08,"j":0.15},
{"t":1,"a":0.22,"b":0.08,"c":0.15,"d":0.25,"e":0.05,"f":0.29,"g":0.08,"h":0.15,"i":0.22,"j":0.08},
{"t":1.5,"a":0.11,"b":0.19,"c":0.05,"d":0.08,"e":0.15,"f":0.15,"g":0.22,"h":0.05,"i":0.11,"j":0.22},
{"t":2,"a":0.19,"b":0.11,"c":0.22,"d":0.15,"e":0.08,"f":0.08,"g":0.11,"h":0.22,"i":0.19,"j":0.15},
{"t":2.5,"a":0.08,"b":0.02,"c":0.11,"d":0.22,"e":0.19,"f":0.22,"g":0.15,"h":0.11,"i":0.08,"j":0.05},
{"t":3,"a":0.15,"b":0.15,"c":0.08,"d":0.05,"e":0.11,"f":0.29,"g":0.19,"h":0.15,"i":0.22,"j":0.11},
{"t":3.5,"a":0.3,"b":0.2,"c":0.15,"d":0.12,"e":0.15,"f":0.35,"g":0.28,"h":0.2,"i":0.15,"j":0.18},
{"t":4,"a":0.5,"b":0.3,"c":0.2,"d":0.18,"e":0.2,"f":0.4,"g":0.3,"h":0.3,"i":0.25,"j":0.2},
{"t":4.5,"a":0.85,"b":0.5,"c":0.3,"d":0.32,"e":0.3,"f":0.55,"g":0.5,"h":0.5,"i":0.3,"j":0.3},
{"t":5,"a":1,"b":0.85,"c":0.5,"d":0.5,"e":0.5,"f":0.85,"g":0.85,"h":0.85,"i":0.5,"j":0.5},
{"t":5.5,"a":0.7,"b":1,"c":0.85,"d":0.85,"e":0.85,"f":1,"g":1,"h":1,"i":0.85,"j":0.85},
{"t":6,"a":0.4,"b":0.7,"c":1,"d":1,"e":1,"f":0.7,"g":0.7,"h":0.85,"i":1,"j":1},
{"t":6.5,"a":0.2,"b":0.4,"c":0.7,"d":0.7,"e":0.7,"f":0.4,"g":0.4,"h":0.5,"i":0.7,"j":0.85},
{"t":7,"a":0.15,"b":0.2,"c":0.35,"d":0.4,"e":0.4,"f":0.2,"g":0.22,"h":0.3,"i":0.4,"j":0.5},
{"t":7.5,"a":0.08,"b":0.15,"c":0.2,"d":0.2,"e":0.2,"f":0.15,"g":0.11,"h":0.2,"i":0.22,"j":0.3},
{"t":8,"a":0.22,"b":0.11,"c":0.15,"d":0.08,"e":0.15,"f":0.19,"g":0.22,"h":0.11,"i":0.15,"j":0.15},
{"t":8.5,"a":0.11,"b":0.22,"c":0.05,"d":0.19,"e":0.11,"f":0.11,"g":0.08,"h":0.22,"i":0.19,"j":0.11},
{"t":9,"a":0.05,"b":0.15,"c":0.22,"d":0.11,"e":0.15,"f":0.22,"g":0.19,"h":0.08,"i":0.11,"j":0.22},
{"t":9.5,"a":0.19,"b":0.08,"c":0.11,"d":0.15,"e":0.05,"f":0.08,"g":0.15,"h":0.19,"i":0.22,"j":0.08},
{"t":10,"a":0.11,"b":0.19,"c":0.15,"d":0.05,"e":0.22,"f":0.19,"g":0.08,"h":0.11,"i":0.15,"j":0.19},
{"t":10.5,"a":0.22,"b":0.11,"c":0.08,"d":0.19,"e":0.11,"f":0.11,"g":0.22,"h":0.15,"i":0.08,"j":0.11},
{"t":11,"a":0.15,"b":0.05,"c":0.19,"d":0.11,"e":0.08,"f":0.22,"g":0.11,"h":0.05,"i":0.19,"j":0.15},
{"t":11.5,"a":0.25,"b":0.15,"c":0.11,"d":0.22,"e":0.15,"f":0.15,"g":0.19,"h":0.22,"i":0.11,"j":0.25},
{"t":12,"a":0.08,"b":0.22,"c":0.19,"d":0.15,"e":0.29,"f":0.25,"g":0.11,"h":0.15,"i":0.22,"j":0.19},
{"t":12.5,"a":0.15,"b":0.11,"c":0.25,"d":0.08,"e":0.19,"f":0.19,"g":0.29,"h":0.11,"i":0.15,"j":0.22},
{"t":13,"a":0.22,"b":0.19,"c":0.15,"d":0.11,"e":0.08,"f":0.11,"g":0.22,"h":0.25,"i":0.19,"j":0.15},
{"t":13.5,"a":0.11,"b":0.08,"c":0.22,"d":0.19,"e":0.15,"f":0.22,"g":0.15,"h":0.29,"i":0.22,"j":0.25},
{"t":14,"a":0.15,"b":0.2,"c":0.12,"d":0.1,"e":0.2,"f":0.25,"g":0.22,"h":0.2,"i":0.28,"j":0.25},
{"t":14.5,"a":0.3,"b":0.15,"c":0.12,"d":0.18,"e":0.1,"f":0.35,"g":0.3,"h":0.28,"i":0.3,"j":0.32},
{"t":15,"a":0.55,"b":0.3,"c":0.25,"d":0.15,"e":0.3,"f":0.42,"g":0.4,"h":0.38,"i":0.35,"j":0.4},
{"t":15.5,"a":1,"b":0.55,"c":0.5,"d":0.3,"e":0.55,"f":0.5,"g":0.48,"h":0.45,"i":0.45,"j":0.48},
{"t":16,"a":0.7,"b":0.95,"c":0.9,"d":0.55,"e":0.95,"f":0.45,"g":0.42,"h":0.5,"i":0.48,"j":0.45},
{"t":16.5,"a":0.35,"b":0.7,"c":0.65,"d":0.9,"e":0.7,"f":0.3,"g":0.35,"h":0.38,"i":0.35,"j":0.3},
{"t":17,"a":0.15,"b":0.35,"c":0.3,"d":0.65,"e":0.35,"f":0.2,"g":0.22,"h":0.25,"i":0.22,"j":0.2},
{"t":17.5,"a":0.11,"b":0.15,"c":0.11,"d":0.3,"e":0.15,"f":0.15,"g":0.11,"h":0.22,"i":0.33,"j":0.15},
{"t":18,"a":0.22,"b":0.11,"c":0.19,"d":0.15,"e":0.05,"f":0.33,"g":0.19,"h":0.11,"i":0.22,"j":0.08},
{"t":18.5,"a":0.05,"b":0.22,"c":0.08,"d":0.08,"e":0.15,"f":0.22,"g":0.08,"h":0.19,"i":0.11,"j":0.29},
{"t":19,"a":0.15,"b":0.08,"c":0.22,"d":0.19,"e":0.29,"f":0.08,"g":0.15,"h":0.22,"i":0.36,"j":0.15},
{"t":19.5,"a":0.22,"b":0.15,"c":0.11,"d":0.05,"e":0.08,"f":0.15,"g":0.22,"h":0.11,"i":0.19,"j":0.08},
{"t":20,"a":0.11,"b":0.19,"c":0.22,"d":0.15,"e":0.19,"f":0.25,"g":0.08,"h":0.15,"i":0.11,"j":0.22},
{"t":20.5,"a":0.19,"b":0.05,"c":0.15,"d":0.22,"e":0.11,"f":0.11,"g":0.19,"h":0.25,"i":0.15,"j":0.33},
{"t":21,"a":0.08,"b":0.15,"c":0.08,"d":0.11,"e":0.22,"f":0.19,"g":0.11,"h":0.15,"i":0.22,"j":0.11},
{"t":21.5,"a":0.15,"b":0.22,"c":0.19,"d":0.08,"e":0.05,"f":0.08,"g":0.22,"h":0.11,"i":0.15,"j":0.19},
{"t":22,"a":0.22,"b":0.08,"c":0.11,"d":0.19,"e":0.15,"f":0.22,"g":0.11,"h":0.19,"i":0.08,"j":0.11},
{"t":22.5,"a":0.11,"b":0.15,"c":0.22,"d":0.05,"e":0.11,"f":0.15,"g":0.19,"h":0.08,"i":0.22,"j":0.15},
{"t":23,"a":0.05,"b":0.11,"c":0.15,"d":0.22,"e":0.19,"f":0.11,"g":0.08,"h":0.22,"i":0.15,"j":0.22},
{"t":23.5,"a":0.22,"b":0.15,"c":0.05,"d":0.11,"e":0.25,"f":0.19,"g":0.15,"h":0.11,"i":0.25,"j":0.08}
],
"p8":[
{"t":0,"a":0.08,"b":0.22,"c":0.15,"d":0.02,"e":0.19,"f":0.25,"g":0.11,"h":0.19,"i":0.05,"j":0.22},
{"t":0.5,"a":0.22,"b":0.11,"c":0.05,"d":0.19,"e":0.08,"f":0.15,"g":0.29,"h":0.08,"i":0.22,"j":0.11},
{"t":1,"a":0.11,"b":0.19,"c":0.22,"d":0.08,"e":0.15,"f":0.29,"g":0.08,"h":0.22,"i":0.11,"j":0.15},
{"t":1.5,"a":0.22,"b":0.05,"c":0.11,"d":0.25,"e":0.08,"f":0.11,"g":0.22,"h":0.15,"i":0.29,"j":0.08},
{"t":2,"a":0.05,"b":0.22,"c":0.15,"d":0.11,"e":0.22,"f":0.25,"g":0.15,"h":0.02,"i":0.11,"j":0.19},
{"t":2.5,"a":0.15,"b":0.11,"c":0.22,"d":0.05,"e":0.11,"f":0.08,"g":0.19,"h":0.22,"i":0.15,"j":0.29},
{"t":3,"a":0.22,"b":0.08,"c":0.05,"d":0.15,"e":0.19,"f":0.19,"g":0.11,"h":0.15,"i":0.22,"j":0.08},
{"t":3.5,"a":0.08,"b":0.19,"c":0.11,"d":0.22,"e":0.08,"f":0.15,"g":0.22,"h":0.08,"i":0.05,"j":0.25},
{"t":4,"a":0.3,"b":0.12,"c":0.18,"d":0.1,"e":0.15,"f":0.28,"g":0.15,"h":0.2,"i":0.12,"j":0.3},
{"t":4.5,"a":0.55,"b":0.2,"c":0.25,"d":0.15,"e":0.3,"f":0.45,"g":0.3,"h":0.32,"i":0.2,"j":0.45},
{"t":5,"a":0.72,"b":0.45,"c":0.45,"d":0.3,"e":0.45,"f":0.8,"g":0.45,"h":0.5,"i":0.32,"j":0.85},
{"t":5.5,"a":0.85,"b":0.8,"c":0.82,"d":0.45,"e":0.8,"f":1,"g":0.8,"h":0.82,"i":0.5,"j":1},
{"t":6,"a":1,"b":1,"c":1,"d":0.8,"e":1,"f":0.75,"g":1,"h":1,"i":0.8,"j":1},
{"t":6.5,"a":0.75,"b":0.75,"c":0.72,"d":1,"e":0.72,"f":0.4,"g":0.75,"h":0.72,"i":1,"j":0.7},
{"t":7,"a":0.5,"b":0.4,"c":0.42,"d":0.75,"e":0.4,"f":0.2,"g":0.4,"h":0.38,"i":0.75,"j":0.35},
{"t":7.5,"a":0.25,"b":0.2,"c":0.22,"d":0.4,"e":0.22,"f":0.15,"g":0.2,"h":0.2,"i":0.4,"j":0.3},
{"t":8,"a":0.22,"b":0.15,"c":0.11,"d":0.22,"e":0.15,"f":0.22,"g":0.15,"h":0.11,"i":0.22,"j":0.19},
{"t":8.5,"a":0.15,"b":0.22,"c":0.19,"d":0.11,"e":0.08,"f":0.11,"g":0.25,"h":0.19,"i":0.15,"j":0.08},
{"t":9,"a":0.19,"b":0.11,"c":0.08,"d":0.15,"e":0.22,"f":0.22,"g":0.08,"h":0.15,"i":0.22,"j":0.15},
{"t":9.5,"a":0.11,"b":0.15,"c":0.22,"d":0.05,"e":0.11,"f":0.08,"g":0.19,"h":0.22,"i":0.11,"j":0.22},
{"t":10,"a":0.22,"b":0.08,"c":0.11,"d":0.19,"e":0.02,"f":0.15,"g":0.11,"h":0.08,"i":0.19,"j":0.05},
{"t":10.5,"a":0.08,"b":0.19,"c":0.15,"d":0.22,"e":0.15,"f":0.22,"g":0.22,"h":0.15,"i":0.02,"j":0.15},
{"t":11,"a":0.15,"b":0.11,"c":0.22,"d":0.08,"e":0.19,"f":0.11,"g":0.15,"h":0.22,"i":0.19,"j":0.08},
{"t":11.5,"a":0.22,"b":0.15,"c":0.08,"d":0.15,"e":0.08,"f":0.19,"g":0.08,"h":0.11,"i":0.15,"j":0.22},
{"t":12,"a":0.11,"b":0.22,"c":0.19,"d":0.11,"e":0.15,"f":0.15,"g":0.19,"h":0.22,"i":0.08,"j":0.11},
{"t":12.5,"a":0.15,"b":0.08,"c":0.11,"d":0.22,"e":0.22,"f":0.22,"g":0.11,"h":0.15,"i":0.19,"j":0.15},
{"t":13,"a":0.2,"b":0.15,"c":0.1,"d":0.15,"e":0.3,"f":0.15,"g":0.2,"h":0.18,"i":0.12,"j":0.2},
{"t":13.5,"a":0.25,"b":0.2,"c":0.15,"d":0.12,"e":0.45,"f":0.28,"g":0.18,"h":0.2,"i":0.2,"j":0.15},
{"t":14,"a":0.3,"b":0.25,"c":0.2,"d":0.15,"e":0.75,"f":0.35,"g":0.2,"h":0.22,"i":0.22,"j":0.2},
{"t":14.5,"a":0.55,"b":0.3,"c":0.3,"d":0.2,"e":0.95,"f":0.35,"g":0.25,"h":0.25,"i":0.28,"j":0.25},
{"t":15,"a":1,"b":0.55,"c":0.55,"d":0.3,"e":0.95,"f":0.32,"g":0.3,"h":0.28,"i":0.3,"j":0.3},
{"t":15.5,"a":0.7,"b":1,"c":0.95,"d":0.55,"e":0.7,"f":0.3,"g":0.4,"h":0.3,"i":0.3,"j":0.35},
{"t":16,"a":0.35,"b":0.7,"c":0.7,"d":1,"e":0.35,"f":0.28,"g":0.5,"h":0.32,"i":0.3,"j":0.4},
{"t":16.5,"a":0.18,"b":0.35,"c":0.35,"d":0.7,"e":0.18,"f":0.25,"g":0.35,"h":0.35,"i":0.28,"j":0.3},
{"t":17,"a":0.12,"b":0.18,"c":0.2,"d":0.35,"e":0.12,"f":0.25,"g":0.22,"h":0.28,"i":0.25,"j":0.22},
{"t":17.5,"a":0.1,"b":0.12,"c":0.15,"d":0.18,"e":0.15,"f":0.2,"g":0.2,"h":0.22,"i":0.2,"j":0.18},
{"t":18,"a":0.15,"b":0.19,"c":0.11,"d":0.08,"e":0.22,"f":0.25,"g":0.19,"h":0.22,"i":0.25,"j":0.22},
{"t":18.5,"a":0.22,"b":0.11,"c":0.19,"d":0.15,"e":0.08,"f":0.33,"g":0.15,"h":0.19,"i":0.22,"j":0.11},
{"t":19,"a":0.11,"b":0.15,"c":0.08,"d":0.22,"e":0.15,"f":0.33,"g":0.22,"h":0.11,"i":0.19,"j":0.15},
{"t":19.5,"a":0.19,"b":0.08,"c":0.15,"d":0.11,"e":0.05,"f":0.29,"g":0.11,"h":0.22,"i":0.15,"j":0.19},
{"t":20,"a":0.08,"b":0.22,"c":0.11,"d":0.19,"e":0.15,"f":0.22,"g":0.19,"h":0.15,"i":0.08,"j":0.22},
{"t":20.5,"a":0.15,"b":0.11,"c":0.22,"d":0.08,"e":0.22,"f":0.15,"g":0.22,"h":0.11,"i":0.19,"j":0.11},
{"t":21,"a":0.22,"b":0.15,"c":0.08,"d":0.15,"e":0.11,"f":0.19,"g":0.11,"h":0.22,"i":0.15,"j":0.29},
{"t":21.5,"a":0.11,"b":0.22,"c":0.19,"d":0.05,"e":0.15,"f":0.22,"g":0.15,"h":0.08,"i":0.33,"j":0.15},
{"t":22,"a":0.15,"b":0.08,"c":0.11,"d":0.22,"e":0.08,"f":0.15,"g":0.22,"h":0.15,"i":0.11,"j":0.22},
{"t":22.5,"a":0.05,"b":0.19,"c":0.22,"d":0.11,"e":0.19,"f":0.11,"g":0.08,"h":0.22,"i":0.19,"j":0.15},
{"t":23,"a":0.22,"b":0.11,"c":0.15,"d":0.08,"e":0.02,"f":0.22,"g":0.15,"h":0.11,"i":0.08,"j":0.29},
{"t":23.5,"a":0.11,"b":0.25,"c":0.08,"d":0.19,"e":0.15,"f":0.08,"g":0.22,"h":0.19,"i":0.15,"j":0.33}
],
"p9":[
{"t":0,"a":0.12,"b":0.22,"c":0.02,"d":0.08,"e":0.15,"f":0.08,"g":0.02,"h":0.15,"i":0.11,"j":0.05},
{"t":0.5,"a":0.19,"b":0.05,"c":0.11,"d":0.15,"e":0.02,"f":0.15,"g":0.11,"h":0.05,"i":0.22,"j":0.08},
{"t":1,"a":0.08,"b":0.25,"c":0.15,"d":0.02,"e":0.11,"f":0.02,"g":0.19,"h":0.11,"i":0.08,"j":0.15},
{"t":1.5,"a":0.22,"b":0.08,"c":0.02,"d":0.15,"e":0.19,"f":0.11,"g":0.05,"h":0.19,"i":0.15,"j":0.02},
{"t":2,"a":0.05,"b":0.15,"c":0.11,"d":0.08,"e":0.02,"f":0.08,"g":0.15,"h":0.02,"i":0.11,"j":0.19},
{"t":2.5,"a":0.11,"b":0.02,"c":0.19,"d":0.11,"e":0.08,"f":0.15,"g":0.08,"h":0.11,"i":0.02,"j":0.11},
{"t":3,"a":0.15,"b":0.11,"c":0.05,"d":0.19,"e":0.11,"f":0.05,"g":0.11,"h":0.15,"i":0.08,"j":0.15},
{"t":3.5,"a":0.08,"b":0.19,"c":0.11,"d":0.08,"e":0.15,"f":0.11,"g":0.19,"h":0.08,"i":0.15,"j":0.05},
{"t":4,"a":0.11,"b":0.08,"c":0.36,"d":0.11,"e":0.05,"f":0.28,"g":0.08,"h":0.11,"i":0.19,"j":0.15},
{"t":4.5,"a":0.05,"b":0.15,"c":0.15,"d":0.08,"e":0.11,"f":0.15,"g":0.11,"h":0.22,"i":0.08,"j":0.11},
{"t":5,"a":0.15,"b":0.11,"c":0.08,"d":0.19,"e":0.15,"f":0.11,"g":0.22,"h":0.15,"i":0.25,"j":0.08},
{"t":5.5,"a":0.08,"b":0.15,"c":0.11,"d":0.11,"e":0.08,"f":0.19,"g":0.15,"h":0.22,"i":0.15,"j":0.25},
{"t":6,"a":0.15,"b":0.11,"c":0.19,"d":0.15,"e":0.22,"f":0.22,"g":0.19,"h":0.15,"i":0.28,"j":0.18},
{"t":6.5,"a":0.22,"b":0.18,"c":0.13,"d":0.25,"e":0.16,"f":0.19,"g":0.27,"h":0.22,"i":0.18,"j":0.3},
{"t":7,"a":0.24,"b":0.22,"c":0.2,"d":0.12,"e":0.27,"f":0.32,"g":0.23,"h":0.3,"i":0.27,"j":0.25},
{"t":7.5,"a":0.33,"b":0.26,"c":0.25,"d":0.24,"e":0.28,"f":0.33,"g":0.36,"h":0.28,"i":0.35,"j":0.3},
{"t":8,"a":0.33,"b":0.38,"c":0.3,"d":0.3,"e":0.4,"f":0.45,"g":0.38,"h":0.4,"i":0.37,"j":0.4},
{"t":8.5,"a":0.45,"b":0.37,"c":0.47,"d":0.36,"e":0.43,"f":0.46,"g":0.48,"h":0.43,"i":0.52,"j":0.44},
{"t":9,"a":0.48,"b":0.47,"c":0.52,"d":0.46,"e":0.55,"f":0.57,"g":0.5,"h":0.56,"i":0.55,"j":0.54},
{"t":9.5,"a":0.63,"b":0.52,"c":0.67,"d":0.53,"e":0.58,"f":0.6,"g":0.63,"h":0.62,"i":0.65,"j":0.57},
{"t":10,"a":0.68,"b":0.71,"c":0.84,"d":0.63,"e":0.75,"f":0.73,"g":0.66,"h":0.74,"i":0.68,"j":0.71},
{"t":10.5,"a":0.85,"b":0.75,"c":0.97,"d":0.78,"e":0.82,"f":0.76,"g":0.79,"h":0.78,"i":0.83,"j":0.75},
{"t":11,"a":0.9,"b":0.9,"c":0.96,"d":0.68,"e":0.94,"f":0.88,"g":0.83,"h":0.9,"i":0.86,"j":0.88},
{"t":11.5,"a":0.98,"b":0.93,"c":1,"d":0.87,"e":0.97,"f":0.91,"g":0.94,"h":0.93,"i":0.97,"j":0.96},
{"t":12,"a":1,"b":1,"c":0.94,"d":1,"e":0.95,"f":0.99,"g":0.98,"h":1,"i":0.96,"j":1},
{"t":12.5,"a":0.88,"b":0.96,"c":0.87,"d":0.9,"e":0.89,"f":1,"g":0.97,"h":0.96,"i":1,"j":0.93},
{"t":13,"a":0.77,"b":0.78,"c":0.68,"d":0.84,"e":0.7,"f":0.93,"g":0.94,"h":0.86,"i":0.98,"j":0.9},
{"t":13.5,"a":0.52,"b":0.64,"c":0.52,"d":0.66,"e":0.55,"f":0.87,"g":0.8,"h":0.77,"i":0.86,"j":0.76},
{"t":14,"a":0.44,"b":0.46,"c":0.36,"d":0.54,"e":0.38,"f":0.68,"g":0.7,"h":0.58,"i":0.77,"j":0.67},
{"t":14.5,"a":0.3,"b":0.4,"c":0.3,"d":0.38,"e":0.37,"f":0.6,"g":0.53,"h":0.5,"i":0.6,"j":0.52},
{"t":15,"a":0.27,"b":0.28,"c":0.18,"d":0.34,"e":0.26,"f":0.43,"g":0.47,"h":0.36,"i":0.52,"j":0.44},
{"t":15.5,"a":0.18,"b":0.24,"c":0.13,"d":0.23,"e":0.22,"f":0.37,"g":0.33,"h":0.32,"i":0.38,"j":0.3},
{"t":16,"a":0.16,"b":0.16,"c":0.08,"d":0.22,"e":0.1,"f":0.26,"g":0.3,"h":0.2,"i":0.32,"j":0.27},
{"t":16.5,"a":0.1,"b":0.17,"c":0.1,"d":0.13,"e":0.12,"f":0.24,"g":0.18,"h":0.2,"i":0.2,"j":0.16},
{"t":17,"a":0.12,"b":0.1,"c":0.17,"d":0.14,"e":0.16,"f":0.13,"g":0.19,"h":0.1,"i":0.17,"j":0.11},
{"t":17.5,"a":0.15,"b":0.08,"c":0.11,"d":0.05,"e":0.11,"f":0.08,"g":0.11,"h":0.15,"i":0.05,"j":0.08},
{"t":18,"a":0.11,"b":0.15,"c":0.08,"d":0.15,"e":0.05,"f":0.11,"g":0.05,"h":0.08,"i":0.11,"j":0.15},
{"t":18.5,"a":0.05,"b":0.11,"c":0.15,"d":0.19,"e":0.11,"f":0.15,"g":0.11,"h":0.05,"i":0.15,"j":0.08},
{"t":19,"a":0.15,"b":0.08,"c":0.05,"d":0.11,"e":0.15,"f":0.08,"g":0.15,"h":0.11,"i":0.19,"j":0.11},
{"t":19.5,"a":0.08,"b":0.15,"c":0.11,"d":0.05,"e":0.08,"f":0.11,"g":0.08,"h":0.15,"i":0.11,"j":0.19},
{"t":20,"a":0.11,"b":0.05,"c":0.15,"d":0.08,"e":0.11,"f":0.15,"g":0.11,"h":0.08,"i":0.05,"j":0.11},
{"t":20.5,"a":0.02,"b":0.11,"c":0.08,"d":0.15,"e":0.05,"f":0.08,"g":0.15,"h":0.11,"i":0.08,"j":0.15},
{"t":21,"a":0.11,"b":0.15,"c":0.02,"d":0.08,"e":0.11,"f":0.11,"g":0.08,"h":0.19,"i":0.15,"j":0.05},
{"t":21.5,"a":0.08,"b":0.08,"c":0.11,"d":0.05,"e":0.02,"f":0.19,"g":0.11,"h":0.08,"i":0.11,"j":0.15},
{"t":22,"a":0.05,"b":0.11,"c":0.08,"d":0.15,"e":0.08,"f":0.11,"g":0.05,"h":0.15,"i":0.08,"j":0.11},
{"t":22.5,"a":0.11,"b":0.02,"c":0.15,"d":0.08,"e":0.11,"f":0.08,"g":0.15,"h":0.11,"i":0.19,"j":0.05},
{"t":23,"a":0.15,"b":0.08,"c":0.11,"d":0.05,"e":0.15,"f":0.05,"g":0.11,"h":0.08,"i":0.15,"j":0.11},
{"t":23.5,"a":0.08,"b":0.15,"c":0.05,"d":0.11,"e":0.08,"f":0.15,"g":0.02,"h":0.11,"i":0.08,"j":0.19}
],
"p10":[
{"t":0,"a":0.15,"b":0.08,"c":0.22,"d":0.02,"e":0.11,"f":0.22,"g":0.05,"h":0.11,"i":0.15,"j":0.08},
{"t":0.5,"a":0.08,"b":0.19,"c":0.02,"d":0.15,"e":0.22,"f":0.11,"g":0.15,"h":0.02,"i":0.22,"j":0.19},
{"t":1,"a":0.3,"b":0.11,"c":0.15,"d":0.08,"e":0.05,"f":0.05,"g":0.22,"h":0.15,"i":0.08,"j":0.11},
{"t":1.5,"a":0.11,"b":0.22,"c":0.05,"d":0.19,"e":0.15,"f":0.15,"g":0.08,"h":0.22,"i":0.05,"j":0.15},
{"t":2,"a":0.15,"b":0.05,"c":0.28,"d":0.11,"e":0.08,"f":0.22,"g":0.11,"h":0.08,"i":0.15,"j":0.02},
{"t":2.5,"a":0.05,"b":0.15,"c":0.11,"d":0.22,"e":0.02,"f":0.11,"g":0.19,"h":0.15,"i":0.11,"j":0.22},
{"t":3,"a":0.22,"b":0.08,"c":0.15,"d":0.05,"e":0.15,"f":0.19,"g":0.02,"h":0.22,"i":0.15,"j":0.11},
{"t":3.5,"a":0.08,"b":0.11,"c":0.08,"d":0.15,"e":0.19,"f":0.22,"g":0.15,"h":0.08,"i":0.19,"j":0.15},
{"t":4,"a":0.11,"b":0.15,"c":0.19,"d":0.11,"e":0.08,"f":0.19,"g":0.23,"h":0.14,"i":0.16,"j":0.22},
{"t":4.5,"a":0.15,"b":0.08,"c":0.11,"d":0.19,"e":0.15,"f":0.25,"g":0.17,"h":0.22,"i":0.2,"j":0.14},
{"t":5,"a":0.19,"b":0.15,"c":0.22,"d":0.11,"e":0.19,"f":0.23,"g":0.25,"h":0.3,"i":0.18,"j":0.28},
{"t":5.5,"a":0.14,"b":0.22,"c":0.15,"d":0.2,"e":0.24,"f":0.34,"g":0.26,"h":0.24,"i":0.35,"j":0.27},
{"t":6,"a":0.24,"b":0.17,"c":0.2,"d":0.27,"e":0.18,"f":0.33,"g":0.36,"h":0.4,"i":0.29,"j":0.38},
{"t":6.5,"a":0.18,"b":0.27,"c":0.23,"d":0.18,"e":0.3,"f":0.46,"g":0.38,"h":0.47,"i":0.36,"j":0.42},
{"t":7,"a":0.27,"b":0.3,"c":0.26,"d":0.27,"e":0.29,"f":0.48,"g":0.52,"h":0.5,"i":0.47,"j":0.53},
{"t":7.5,"a":0.29,"b":0.27,"c":0.37,"d":0.29,"e":0.36,"f":0.61,"g":0.53,"h":0.62,"i":0.5,"j":0.57},
{"t":8,"a":0.4,"b":0.34,"c":0.3,"d":0.44,"e":0.41,"f":0.6,"g":0.67,"h":0.58,"i":0.63,"j":0.6},
{"t":8.5,"a":0.43,"b":0.45,"c":0.46,"d":0.41,"e":0.49,"f":0.73,"g":0.66,"h":0.74,"i":0.63,"j":0.72},
{"t":9,"a":0.57,"b":0.48,"c":0.6,"d":0.5,"e":0.54,"f":0.73,"g":0.8,"h":0.73,"i":0.75,"j":0.76},
{"t":9.5,"a":0.66,"b":0.64,"c":0.68,"d":0.67,"e":0.66,"f":0.84,"g":0.78,"h":0.87,"i":0.78,"j":0.84},
{"t":10,"a":0.82,"b":0.73,"c":0.84,"d":0.73,"e":0.8,"f":0.86,"g":0.9,"h":0.88,"i":0.88,"j":0.86},
{"t":10.5,"a":0.88,"b":0.9,"c":0.9,"d":0.87,"e":0.88,"f":0.95,"g":0.9,"h":0.97,"i":0.92,"j":0.9},
{"t":11,"a":0.98,"b":0.93,"c":1,"d":0.97,"e":0.95,"f":0.96,"g":0.98,"h":0.96,"i":0.97,"j":0.98},
{"t":11.5,"a":1,"b":1,"c":0.97,"d":1,"e":1,"f":1,"g":0.99,"h":1,"i":0.97,"j":1},
{"t":12,"a":0.96,"b":0.99,"c":0.88,"d":0.97,"e":0.96,"f":0.99,"g":1,"h":0.97,"i":1,"j":0.98},
{"t":12.5,"a":0.86,"b":0.92,"c":0.76,"d":0.94,"e":0.83,"f":0.98,"g":0.96,"h":0.93,"i":0.99,"j":0.95},
{"t":13,"a":0.74,"b":0.76,"c":0.6,"d":0.82,"e":0.68,"f":0.9,"g":0.97,"h":0.88,"i":0.94,"j":0.9},
{"t":13.5,"a":0.55,"b":0.64,"c":0.52,"d":0.66,"e":0.6,"f":0.87,"g":0.85,"h":0.84,"i":0.86,"j":0.87},
{"t":14,"a":0.5,"b":0.47,"c":0.4,"d":0.57,"e":0.43,"f":0.76,"g":0.82,"h":0.72,"i":0.82,"j":0.76},
{"t":14.5,"a":0.37,"b":0.44,"c":0.36,"d":0.43,"e":0.4,"f":0.7,"g":0.69,"h":0.67,"i":0.7,"j":0.72},
{"t":15,"a":0.37,"b":0.35,"c":0.28,"d":0.42,"e":0.3,"f":0.56,"g":0.64,"h":0.53,"i":0.64,"j":0.58},
{"t":15.5,"a":0.28,"b":0.34,"c":0.27,"d":0.33,"e":0.32,"f":0.5,"g":0.49,"h":0.47,"i":0.5,"j":0.52},
{"t":16,"a":0.3,"b":0.23,"c":0.18,"d":0.32,"e":0.23,"f":0.36,"g":0.44,"h":0.33,"i":0.44,"j":0.38},
{"t":16.5,"a":0.2,"b":0.22,"c":0.2,"d":0.23,"e":0.22,"f":0.32,"g":0.33,"h":0.3,"i":0.33,"j":0.34},
{"t":17,"a":0.19,"b":0.13,"c":0.1,"d":0.22,"e":0.13,"f":0.23,"g":0.3,"h":0.2,"i":0.26,"j":0.27},
{"t":17.5,"a":0.13,"b":0.14,"c":0.05,"d":0.16,"e":0.1,"f":0.22,"g":0.2,"h":0.16,"i":0.22,"j":0.18},
{"t":18,"a":0.11,"b":0.15,"c":0.02,"d":0.11,"e":0.08,"f":0.15,"g":0.19,"h":0.08,"i":0.15,"j":0.15},
{"t":18.5,"a":0.08,"b":0.11,"c":0.08,"d":0.05,"e":0.15,"f":0.11,"g":0.08,"h":0.15,"i":0.22,"j":0.11},
{"t":19,"a":0.15,"b":0.05,"c":0.15,"d":0.11,"e":0.08,"f":0.19,"g":0.15,"h":0.11,"i":0.08,"j":0.15},
{"t":19.5,"a":0.11,"b":0.15,"c":0.05,"d":0.19,"e":0.11,"f":0.15,"g":0.22,"h":0.02,"i":0.15,"j":0.11},
{"t":20,"a":0.05,"b":0.11,"c":0.15,"d":0.08,"e":0.15,"f":0.11,"g":0.15,"h":0.19,"i":0.22,"j":0.08},
{"t":20.5,"a":0.15,"b":0.08,"c":0.11,"d":0.15,"e":0.05,"f":0.19,"g":0.08,"h":0.15,"i":0.11,"j":0.19},
{"t":21,"a":0.11,"b":0.19,"c":0.08,"d":0.11,"e":0.15,"f":0.08,"g":0.22,"h":0.11,"i":0.15,"j":0.11},
{"t":21.5,"a":0.22,"b":0.11,"c":0.15,"d":0.08,"e":0.19,"f":0.15,"g":0.11,"h":0.22,"i":0.08,"j":0.22},
{"t":22,"a":0.25,"b":0.15,"c":0.11,"d":0.19,"e":0.08,"f":0.22,"g":0.15,"h":0.08,"i":0.19,"j":0.15},
{"t":22.5,"a":0.27,"b":0.11,"c":0.19,"d":0.15,"e":0.22,"f":0.11,"g":0.19,"h":0.15,"i":0.22,"j":0.05},
{"t":23,"a":0.28,"b":0.19,"c":0.11,"d":0.08,"e":0.15,"f":0.15,"g":0.08,"h":0.22,"i":0.11,"j":0.22},
{"t":23.5,"a":0.3,"b":0.08,"c":0.22,"d":0.15,"e":0.02,"f":0.05,"g":0.22,"h":0,"i":0.15,"j":0.25}
],
"p11":[
{"t":0,"a":0.15,"b":0.08,"c":0.02,"d":0.11,"e":0.19,"f":0.02,"g":0.11,"h":0,"i":0.15,"j":0.08},
{"t":0.5,"a":0.08,"b":0.19,"c":0.11,"d":0.15,"e":0.05,"f":0.11,"g":0,"h":0.15,"i":0.08,"j":0.05},
{"t":1,"a":0.19,"b":0.02,"c":0.15,"d":0.08,"e":0.11,"f":0.05,"g":0.15,"h":0.08,"i":0.19,"j":0.11},
{"t":1.5,"a":0.11,"b":0.15,"c":0.05,"d":0.19,"e":0.15,"f":0.15,"g":0.08,"h":0.19,"i":0.11,"j":0.22},
{"t":2,"a":0.05,"b":0.11,"c":0.19,"d":0.08,"e":0.08,"f":0.22,"g":0.19,"h":0.11,"i":0.15,"j":0.15},
{"t":2.5,"a":0.15,"b":0.19,"c":0.08,"d":0.11,"e":0.15,"f":0.19,"g":0.25,"h":0.22,"i":0.27,"j":0.14},
{"t":3,"a":0.08,"b":0.11,"c":0.15,"d":0.05,"e":0.22,"f":0.24,"g":0.2,"h":0.27,"i":0.17,"j":0.23},
{"t":3.5,"a":0.19,"b":0.05,"c":0.11,"d":0.15,"e":0.11,"f":0.19,"g":0.26,"h":0.17,"i":0.24,"j":0.27},
{"t":4,"a":0.11,"b":0.15,"c":0.19,"d":0.08,"e":0.15,"f":0.27,"g":0.21,"h":0.3,"i":0.26,"j":0.19},
{"t":4.5,"a":0.15,"b":0.08,"c":0.11,"d":0.22,"e":0.05,"f":0.26,"g":0.32,"h":0.24,"i":0.31,"j":0.21},
{"t":5,"a":0.08,"b":0.19,"c":0.15,"d":0.11,"e":0.19,"f":0.35,"g":0.35,"h":0.28,"i":0.27,"j":0.32},
{"t":5.5,"a":0.22,"b":0.11,"c":0.19,"d":0.15,"e":0.02,"f":0.37,"g":0.42,"h":0.34,"i":0.4,"j":0.31},
{"t":6,"a":0.15,"b":0.22,"c":0.25,"d":0.08,"e":0.15,"f":0.47,"g":0.4,"h":0.5,"i":0.38,"j":0.44},
{"t":6.5,"a":0.11,"b":0.15,"c":0.08,"d":0.22,"e":0.19,"f":0.5,"g":0.5,"h":0.56,"i":0.43,"j":0.52},
{"t":7,"a":0.3,"b":0.24,"c":0.22,"d":0.14,"e":0.21,"f":0.63,"g":0.53,"h":0.6,"i":0.57,"j":0.57},
{"t":7.5,"a":0.21,"b":0.27,"c":0.3,"d":0.18,"e":0.13,"f":0.66,"g":0.64,"h":0.72,"i":0.6,"j":0.67},
{"t":8,"a":0.33,"b":0.34,"c":0.27,"d":0.26,"e":0.2,"f":0.78,"g":0.68,"h":0.76,"i":0.7,"j":0.71},
{"t":8.5,"a":0.4,"b":0.47,"c":0.36,"d":0.37,"e":0.28,"f":0.78,"g":0.8,"h":0.8,"i":0.77,"j":0.8},
{"t":9,"a":0.55,"b":0.55,"c":0.52,"d":0.43,"e":0.44,"f":0.87,"g":0.8,"h":0.9,"i":0.78,"j":0.83},
{"t":9.5,"a":0.63,"b":0.73,"c":0.6,"d":0.6,"e":0.52,"f":0.88,"g":0.9,"h":0.88,"i":0.87,"j":0.86},
{"t":10,"a":0.8,"b":0.78,"c":0.77,"d":0.7,"e":0.7,"f":0.94,"g":0.9,"h":0.96,"i":0.88,"j":0.93},
{"t":10.5,"a":0.86,"b":0.9,"c":0.83,"d":0.87,"e":0.8,"f":0.93,"g":0.97,"h":0.96,"i":0.95,"j":0.94},
{"t":11,"a":0.94,"b":0.9,"c":0.92,"d":0.88,"e":0.92,"f":0.99,"g":0.95,"h":0.98,"i":0.94,"j":0.98},
{"t":11.5,"a":0.93,"b":0.98,"c":0.94,"d":0.95,"e":0.95,"f":1,"g":0.99,"h":0.97,"i":1,"j":0.98},
{"t":12,"a":1,"b":1,"c":0.98,"d":0.94,"e":0.99,"f":0.98,"g":1,"h":1,"i":0.99,"j":1},
{"t":12.5,"a":0.98,"b":0.96,"c":1,"d":1,"e":1,"f":0.99,"g":0.96,"h":0.99,"i":0.98,"j":0.97},
{"t":13,"a":0.9,"b":0.8,"c":0.93,"d":0.94,"e":0.88,"f":0.94,"g":0.94,"h":0.95,"i":0.98,"j":0.96},
{"t":13.5,"a":0.7,"b":0.67,"c":0.78,"d":0.87,"e":0.8,"f":0.91,"g":0.87,"h":0.93,"i":0.91,"j":0.9},
{"t":14,"a":0.57,"b":0.48,"c":0.67,"d":0.7,"e":0.6,"f":0.83,"g":0.84,"h":0.85,"i":0.9,"j":0.82},
{"t":14.5,"a":0.4,"b":0.4,"c":0.48,"d":0.6,"e":0.5,"f":0.8,"g":0.73,"h":0.81,"i":0.8,"j":0.79},
{"t":15,"a":0.34,"b":0.26,"c":0.4,"d":0.43,"e":0.36,"f":0.68,"g":0.7,"h":0.7,"i":0.77,"j":0.68},
{"t":15.5,"a":0.23,"b":0.24,"c":0.28,"d":0.42,"e":0.32,"f":0.64,"g":0.58,"h":0.67,"i":0.66,"j":0.63},
{"t":16,"a":0.22,"b":0.16,"c":0.24,"d":0.3,"e":0.2,"f":0.53,"g":0.54,"h":0.56,"i":0.62,"j":0.53},
{"t":16.5,"a":0.16,"b":0.17,"c":0.18,"d":0.27,"e":0.19,"f":0.47,"g":0.43,"h":0.52,"i":0.5,"j":0.49},
{"t":17,"a":0.17,"b":0.15,"c":0.16,"d":0.18,"e":0.13,"f":0.36,"g":0.4,"h":0.4,"i":0.47,"j":0.38},
{"t":17.5,"a":0.11,"b":0.17,"c":0.19,"d":0.2,"e":0.1,"f":0.34,"g":0.28,"h":0.37,"i":0.36,"j":0.33},
{"t":18,"a":0.16,"b":0.1,"c":0.13,"d":0.14,"e":0.12,"f":0.23,"g":0.27,"h":0.26,"i":0.32,"j":0.24},
{"t":18.5,"a":0.08,"b":0.05,"c":0.11,"d":0.11,"e":0.16,"f":0.22,"g":0.2,"h":0.24,"i":0.23,"j":0.19},
{"t":19,"a":0.11,"b":0.15,"c":0.08,"d":0.05,"e":0.11,"f":0.14,"g":0.19,"h":0.18,"i":0.2,"j":0.13},
{"t":19.5,"a":0.05,"b":0.08,"c":0.11,"d":0.15,"e":0.08,"f":0.13,"g":0.14,"h":0.13,"i":0.15,"j":0.08},
{"t":20,"a":0.11,"b":0.02,"c":0.15,"d":0.08,"e":0.11,"f":0.08,"g":0.13,"h":0.15,"i":0.08,"j":0.04},
{"t":20.5,"a":0.15,"b":0.11,"c":0.05,"d":0.11,"e":0.05,"f":0.03,"g":0.15,"h":0.08,"i":0.12,"j":0.11},
{"t":21,"a":0.08,"b":0.15,"c":0.11,"d":0.08,"e":0.15,"f":0.11,"g":0.05,"h":0.12,"i":0.15,"j":0.08},
{"t":21.5,"a":0.11,"b":0.08,"c":0.15,"d":0.05,"e":0.08,"f":0.15,"g":0.11,"h":0.03,"i":0.08,"j":0.15},
{"t":22,"a":0.15,"b":0.11,"c":0.08,"d":0.15,"e":0.11,"f":0.08,"g":0.15,"h":0.11,"i":0.05,"j":0.11},
{"t":22.5,"a":0.08,"b":0.15,"c":0.11,"d":0.11,"e":0.19,"f":0.15,"g":0.08,"h":0.15,"i":0.11,"j":0.02},
{"t":23,"a":0.15,"b":0.08,"c":0.19,"d":0.08,"e":0.15,"f":0.05,"g":0.11,"h":0.08,"i":0.15,"j":0.11},
{"t":23.5,"a":0.22,"b":0.11,"c":0.08,"d":0.15,"e":0.11,"f":0.15,"g":0.05,"h":0.11,"i":0.02,"j":0}
],
"p12":[
{"t":0,"a":0.15,"b":0.08,"c":0.02,"d":0.11,"e":0.05,"f":0,"g":0.11,"h":0.02,"i":0.08,"j":0.15},
{"t":0.5,"a":0.08,"b":0.15,"c":0.11,"d":0.05,"e":0.19,"f":0.08,"g":0.02,"h":0.15,"i":0.05,"j":0.11},
{"t":1,"a":0.19,"b":0.05,"c":0.15,"d":0.11,"e":0.08,"f":0.15,"g":0.11,"h":0.05,"i":0.22,"j":0.08},
{"t":1.5,"a":0.11,"b":0.19,"c":0.08,"d":0.22,"e":0.15,"f":0.05,"g":0.19,"h":0.15,"i":0.11,"j":0.22},
{"t":2,"a":0.15,"b":0.11,"c":0.19,"d":0.08,"e":0.11,"f":0.2,"g":0.1,"h":0.22,"i":0.15,"j":0.08},
{"t":2.5,"a":0.08,"b":0.15,"c":0.11,"d":0.15,"e":0.22,"f":0.22,"g":0.15,"h":0.1,"i":0.24,"j":0.19},
{"t":3,"a":0.19,"b":0.08,"c":0.15,"d":0.05,"e":0.11,"f":0.13,"g":0.25,"h":0.19,"i":0.22,"j":0.27},
{"t":3.5,"a":0.11,"b":0.22,"c":0.08,"d":0.15,"e":0.15,"f":0.28,"g":0.17,"h":0.31,"i":0.2,"j":0.22},
{"t":4,"a":0.15,"b":0.11,"c":0.19,"d":0.11,"e":0.08,"f":0.27,"g":0.28,"h":0.2,"i":0.35,"j":0.26},
{"t":4.5,"a":0.05,"b":0.15,"c":0.11,"d":0.19,"e":0.15,"f":0.38,"g":0.25,"h":0.33,"i":0.28,"j":0.37},
{"t":5,"a":0.15,"b":0.08,"c":0.15,"d":0.11,"e":0.22,"f":0.3,"g":0.38,"h":0.36,"i":0.38,"j":0.27},
{"t":5.5,"a":0.22,"b":0.15,"c":0.22,"d":0.08,"e":0.15,"f":0.43,"g":0.35,"h":0.45,"i":0.37,"j":0.41},
{"t":6,"a":0.17,"b":0.24,"c":0.13,"d":0.22,"e":0.27,"f":0.42,"g":0.46,"h":0.46,"i":0.48,"j":0.39},
{"t":6.5,"a":0.27,"b":0.18,"c":0.31,"d":0.2,"e":0.18,"f":0.55,"g":0.47,"h":0.58,"i":0.45,"j":0.53},
{"t":7,"a":0.28,"b":0.35,"c":0.22,"d":0.31,"e":0.34,"f":0.56,"g":0.59,"h":0.57,"i":0.59,"j":0.58},
{"t":7.5,"a":0.38,"b":0.37,"c":0.34,"d":0.35,"e":0.38,"f":0.68,"g":0.58,"h":0.71,"i":0.6,"j":0.67},
{"t":8,"a":0.39,"b":0.48,"c":0.37,"d":0.41,"e":0.43,"f":0.67,"g":0.71,"h":0.7,"i":0.71,"j":0.68},
{"t":8.5,"a":0.53,"b":0.45,"c":0.55,"d":0.42,"e":0.53,"f":0.78,"g":0.7,"h":0.8,"i":0.73,"j":0.78},
{"t":9,"a":0.52,"b":0.61,"c":0.57,"d":0.55,"e":0.52,"f":0.77,"g":0.81,"h":0.8,"i":0.83,"j":0.79},
{"t":9.5,"a":0.65,"b":0.62,"c":0.71,"d":0.58,"e":0.65,"f":0.88,"g":0.83,"h":0.9,"i":0.83,"j":0.88},
{"t":10,"a":0.7,"b":0.75,"c":0.73,"d":0.71,"e":0.67,"f":0.86,"g":0.92,"h":0.88,"i":0.9,"j":0.87},
{"t":10.5,"a":0.83,"b":0.77,"c":0.85,"d":0.75,"e":0.81,"f":0.94,"g":0.93,"h":0.95,"i":0.9,"j":0.96},
{"t":11,"a":0.86,"b":0.89,"c":0.88,"d":0.88,"e":0.85,"f":0.95,"g":1,"h":0.93,"i":0.98,"j":0.94},
{"t":11.5,"a":0.95,"b":0.9,"c":0.97,"d":0.9,"e":0.96,"f":0.99,"g":0.94,"h":1,"i":0.96,"j":1},
{"t":12,"a":0.97,"b":0.98,"c":1,"d":0.95,"e":0.99,"f":0.98,"g":1,"h":0.96,"i":1,"j":0.98},
{"t":12.5,"a":0.96,"b":0.96,"c":0.9,"d":1,"e":0.94,"f":1,"g":0.97,"h":1,"i":0.95,"j":0.99},
{"t":13,"a":0.83,"b":0.9,"c":0.78,"d":0.88,"e":0.87,"f":0.94,"g":0.98,"h":0.93,"i":1,"j":0.95},
{"t":13.5,"a":0.72,"b":0.73,"c":0.67,"d":0.8,"e":0.68,"f":0.92,"g":0.9,"h":0.92,"i":0.91,"j":0.94},
{"t":14,"a":0.56,"b":0.62,"c":0.5,"d":0.63,"e":0.57,"f":0.83,"g":0.88,"h":0.82,"i":0.9,"j":0.84},
{"t":14.5,"a":0.47,"b":0.46,"c":0.42,"d":0.5,"e":0.43,"f":0.82,"g":0.78,"h":0.8,"i":0.8,"j":0.82},
{"t":15,"a":0.36,"b":0.42,"c":0.3,"d":0.44,"e":0.33,"f":0.7,"g":0.77,"h":0.68,"i":0.78,"j":0.72},
{"t":15.5,"a":0.32,"b":0.3,"c":0.3,"d":0.33,"e":0.32,"f":0.67,"g":0.66,"h":0.64,"i":0.68,"j":0.69},
{"t":16,"a":0.23,"b":0.3,"c":0.2,"d":0.32,"e":0.23,"f":0.56,"g":0.62,"h":0.53,"i":0.65,"j":0.58},
{"t":16.5,"a":0.24,"b":0.23,"c":0.22,"d":0.23,"e":0.22,"f":0.52,"g":0.51,"h":0.5,"i":0.54,"j":0.55},
{"t":17,"a":0.18,"b":0.24,"c":0.16,"d":0.24,"e":0.16,"f":0.42,"g":0.48,"h":0.4,"i":0.5,"j":0.43},
{"t":17.5,"a":0.2,"b":0.18,"c":0.17,"d":0.18,"e":0.17,"f":0.4,"g":0.38,"h":0.37,"i":0.4,"j":0.42},
{"t":18,"a":0.13,"b":0.2,"c":0.1,"d":0.2,"e":0.13,"f":0.3,"g":0.36,"h":0.28,"i":0.37,"j":0.31},
{"t":18.5,"a":0.14,"b":0.13,"c":0.12,"d":0.13,"e":0.14,"f":0.3,"g":0.26,"h":0.27,"i":0.28,"j":0.3},
{"t":19,"a":0.13,"b":0.14,"c":0.13,"d":0.14,"e":0.08,"f":0.2,"g":0.26,"h":0.18,"i":0.27,"j":0.2},
{"t":19.5,"a":0.14,"b":0.08,"c":0.14,"d":0.13,"e":0.17,"f":0.2,"g":0.18,"h":0.17,"i":0.18,"j":0.2},
{"t":20,"a":0.16,"b":0.17,"c":0.08,"d":0.14,"e":0.22,"f":0.13,"g":0.2,"h":0.1,"i":0.17,"j":0.13},
{"t":20.5,"a":0.1,"b":0.22,"c":0.17,"d":0.08,"e":0.14,"f":0.14,"g":0.13,"h":0.12,"i":0.1,"j":0.14},
{"t":21,"a":0.17,"b":0.1,"c":0.08,"d":0.2,"e":0.13,"f":0.08,"g":0.14,"h":0.1,"i":0.1,"j":0.08},
{"t":21.5,"a":0.08,"b":0.2,"c":0.14,"d":0.1,"e":0.12,"f":0.14,"g":0.06,"h":0.12,"i":0.1,"j":0.03},
{"t":22,"a":0.17,"b":0.1,"c":0.17,"d":0.08,"e":0.2,"f":0.06,"g":0.14,"h":0.08,"i":0.12,"j":0.1},
{"t":22.5,"a":0.1,"b":0.12,"c":0.06,"d":0.17,"e":0.1,"f":0.12,"g":0.03,"h":0.14,"i":0.06,"j":0.12},
{"t":23,"a":0.2,"b":0.13,"c":0.14,"d":0.08,"e":0.17,"f":0.1,"g":0.12,"h":0.06,"i":0.14,"j":0.13},
{"t":23.5,"a":0.08,"b":0.14,"c":0.13,"d":0.14,"e":0.08,"f":0.14,"g":0.08,"h":0.17,"i":0,"j":0.12}
]
},
"concat":[
{"title":"1 Hours Difference","data":{"name":"p1"},"transform":[{"fold":["a","b","c","d","e","f","g","h","i","j"],"as":["s","v"]}],"mark":"line",
"encoding":{"x":{"field":"t","type":"quantitative","scale":{"domain":[0,24],"nice":false},"axis":{"values":[0,6,12,18,24],"labels":false,"title":null}},
"y":{"field":"v","type":"quantitative","scale":{"domain":[-0.095,1.095],"nice":false,"zero":false},"axis":{"values":[0,0.5,1],"labelExpr":"''+datum.value","title":null}},
"color":{"field":"s","type":"nominal","scale":{"domain":["a","b","c","d","e","f","g","h","i","j"],"range":["#1f77b4","#1f77b4","#1f77b4","#1f77b4","#1f77b4","#ff7f0e","#ff7f0e","#ff7f0e","#ff7f0e","#ff7f0e"]},"legend":null}}},
{"title":"2 Hours Difference","data":{"name":"p2"},"transform":[{"fold":["a","b","c","d","e","f","g","h","i","j"],"as":["s","v"]}],"mark":"line",
"encoding":{"x":{"field":"t","type":"quantitative","scale":{"domain":[0,24],"nice":false},"axis":{"values":[0,6,12,18,24],"labels":false,"title":null}},
"y":{"field":"v","type":"quantitative","scale":{"domain":[-0.095,1.095],"nice":false,"zero":false},"axis":{"values":[0,0.5,1],"labels":false,"title":null}},
"color":{"field":"s","type":"nominal","scale":{"domain":["a","b","c","d","e","f","g","h","i","j"],"range":["#1f77b4","#1f77b4","#1f77b4","#1f77b4","#1f77b4","#ff7f0e","#ff7f0e","#ff7f0e","#ff7f0e","#ff7f0e"]},"legend":null}}},
{"title":"3 Hours Difference","data":{"name":"p3"},"transform":[{"fold":["a","b","c","d","e","f","g","h","i","j"],"as":["s","v"]}],"mark":"line",
"encoding":{"x":{"field":"t","type":"quantitative","scale":{"domain":[0,24],"nice":false},"axis":{"values":[0,6,12,18,24],"labels":false,"title":null}},
"y":{"field":"v","type":"quantitative","scale":{"domain":[-0.095,1.095],"nice":false,"zero":false},"axis":{"values":[0,0.5,1],"labels":false,"title":null}},
"color":{"field":"s","type":"nominal","scale":{"domain":["a","b","c","d","e","f","g","h","i","j"],"range":["#1f77b4","#1f77b4","#1f77b4","#1f77b4","#1f77b4","#ff7f0e","#ff7f0e","#ff7f0e","#ff7f0e","#ff7f0e"]},"legend":null}}},
{"title":"4 Hours Difference","data":{"name":"p4"},"transform":[{"fold":["a","b","c","d","e","f","g","h","i","j"],"as":["s","v"]}],"mark":"line",
"encoding":{"x":{"field":"t","type":"quantitative","scale":{"domain":[0,24],"nice":false},"axis":{"values":[0,6,12,18,24],"labels":false,"title":null}},
"y":{"field":"v","type":"quantitative","scale":{"domain":[-0.095,1.095],"nice":false,"zero":false},"axis":{"values":[0,0.5,1],"labels":false,"title":null}},
"color":{"field":"s","type":"nominal","scale":{"domain":["a","b","c","d","e","f","g","h","i","j"],"range":["#1f77b4","#1f77b4","#1f77b4","#1f77b4","#1f77b4","#ff7f0e","#ff7f0e","#ff7f0e","#ff7f0e","#ff7f0e"]},"legend":null}}},
{"title":"90% Relative Magnitude","data":{"name":"p5"},"transform":[{"fold":["a","b","c","d","e","f","g","h","i","j"],"as":["s","v"]}],"mark":"line",
"encoding":{"x":{"field":"t","type":"quantitative","scale":{"domain":[0,24],"nice":false},"axis":{"values":[0,6,12,18,24],"labels":false,"title":null}},
"y":{"field":"v","type":"quantitative","scale":{"domain":[-0.095,1.095],"nice":false,"zero":false},"axis":{"values":[0,0.5,1],"labelExpr":"''+datum.value","title":null}},
"color":{"field":"s","type":"nominal","scale":{"domain":["a","b","c","d","e","f","g","h","i","j"],"range":["#1f77b4","#1f77b4","#1f77b4","#1f77b4","#1f77b4","#ff7f0e","#ff7f0e","#ff7f0e","#ff7f0e","#ff7f0e"]},"legend":null}}},
{"title":"70% Relative Magnitude","data":{"name":"p6"},"transform":[{"fold":["a","b","c","d","e","f","g","h","i","j"],"as":["s","v"]}],"mark":"line",
"encoding":{"x":{"field":"t","type":"quantitative","scale":{"domain":[0,24],"nice":false},"axis":{"values":[0,6,12,18,24],"labels":false,"title":null}},
"y":{"field":"v","type":"quantitative","scale":{"domain":[-0.095,1.095],"nice":false,"zero":false},"axis":{"values":[0,0.5,1],"labels":false,"title":null}},
"color":{"field":"s","type":"nominal","scale":{"domain":["a","b","c","d","e","f","g","h","i","j"],"range":["#1f77b4","#1f77b4","#1f77b4","#1f77b4","#1f77b4","#ff7f0e","#ff7f0e","#ff7f0e","#ff7f0e","#ff7f0e"]},"legend":null}}},
{"title":"50% Relative Magnitude","data":{"name":"p7"},"transform":[{"fold":["a","b","c","d","e","f","g","h","i","j"],"as":["s","v"]}],"mark":"line",
"encoding":{"x":{"field":"t","type":"quantitative","scale":{"domain":[0,24],"nice":false},"axis":{"values":[0,6,12,18,24],"labels":false,"title":null}},
"y":{"field":"v","type":"quantitative","scale":{"domain":[-0.095,1.095],"nice":false,"zero":false},"axis":{"values":[0,0.5,1],"labels":false,"title":null}},
"color":{"field":"s","type":"nominal","scale":{"domain":["a","b","c","d","e","f","g","h","i","j"],"range":["#1f77b4","#1f77b4","#1f77b4","#1f77b4","#1f77b4","#ff7f0e","#ff7f0e","#ff7f0e","#ff7f0e","#ff7f0e"]},"legend":null}}},
{"title":"30% Relative Magnitude","data":{"name":"p8"},"transform":[{"fold":["a","b","c","d","e","f","g","h","i","j"],"as":["s","v"]}],"mark":"line",
"encoding":{"x":{"field":"t","type":"quantitative","scale":{"domain":[0,24],"nice":false},"axis":{"values":[0,6,12,18,24],"labels":false,"title":null}},
"y":{"field":"v","type":"quantitative","scale":{"domain":[-0.095,1.095],"nice":false,"zero":false},"axis":{"values":[0,0.5,1],"labels":false,"title":null}},
"color":{"field":"s","type":"nominal","scale":{"domain":["a","b","c","d","e","f","g","h","i","j"],"range":["#1f77b4","#1f77b4","#1f77b4","#1f77b4","#1f77b4","#ff7f0e","#ff7f0e","#ff7f0e","#ff7f0e","#ff7f0e"]},"legend":null}}},
{"title":"15 Additional Variance","data":{"name":"p9"},"transform":[{"fold":["a","b","c","d","e","f","g","h","i","j"],"as":["s","v"]}],"mark":"line",
"encoding":{"x":{"field":"t","type":"quantitative","scale":{"domain":[0,24],"nice":false},"axis":{"values":[0,6,12,18,24],"labelExpr":"datum.value==24?'':(datum.value<10?'0':'')+datum.value+':00'","title":"Time"}},
"y":{"field":"v","type":"quantitative","scale":{"domain":[-0.095,1.095],"nice":false,"zero":false},"axis":{"values":[0,0.5,1],"labelExpr":"''+datum.value","title":null}},
"color":{"field":"s","type":"nominal","scale":{"domain":["a","b","c","d","e","f","g","h","i","j"],"range":["#1f77b4","#1f77b4","#1f77b4","#1f77b4","#1f77b4","#ff7f0e","#ff7f0e","#ff7f0e","#ff7f0e","#ff7f0e"]},"legend":null}}},
{"title":"30 Additional Variance","data":{"name":"p10"},"transform":[{"fold":["a","b","c","d","e","f","g","h","i","j"],"as":["s","v"]}],"mark":"line",
"encoding":{"x":{"field":"t","type":"quantitative","scale":{"domain":[0,24],"nice":false},"axis":{"values":[0,6,12,18,24],"labelExpr":"datum.value==24?'':(datum.value<10?'0':'')+datum.value+':00'","title":"Time"}},
"y":{"field":"v","type":"quantitative","scale":{"domain":[-0.095,1.095],"nice":false,"zero":false},"axis":{"values":[0,0.5,1],"labels":false,"title":null}},
"color":{"field":"s","type":"nominal","scale":{"domain":["a","b","c","d","e","f","g","h","i","j"],"range":["#1f77b4","#1f77b4","#1f77b4","#1f77b4","#1f77b4","#ff7f0e","#ff7f0e","#ff7f0e","#ff7f0e","#ff7f0e"]},"legend":null}}},
{"title":"45 Additional Variance","data":{"name":"p11"},"transform":[{"fold":["a","b","c","d","e","f","g","h","i","j"],"as":["s","v"]}],"mark":"line",
"encoding":{"x":{"field":"t","type":"quantitative","scale":{"domain":[0,24],"nice":false},"axis":{"values":[0,6,12,18,24],"labelExpr":"datum.value==24?'':(datum.value<10?'0':'')+datum.value+':00'","title":"Time"}},
"y":{"field":"v","type":"quantitative","scale":{"domain":[-0.095,1.095],"nice":false,"zero":false},"axis":{"values":[0,0.5,1],"labels":false,"title":null}},
"color":{"field":"s","type":"nominal","scale":{"domain":["a","b","c","d","e","f","g","h","i","j"],"range":["#1f77b4","#1f77b4","#1f77b4","#1f77b4","#1f77b4","#ff7f0e","#ff7f0e","#ff7f0e","#ff7f0e","#ff7f0e"]},"legend":null}}},
{"title":"60 Additional Variance","data":{"name":"p12"},"transform":[{"fold":["a","b","c","d","e","f","g","h","i","j"],"as":["s","v"]}],"mark":"line",
"encoding":{"x":{"field":"t","type":"quantitative","scale":{"domain":[0,24],"nice":false},"axis":{"values":[0,6,12,18,24],"labelExpr":"datum.value==24?'':(datum.value<10?'0':'')+datum.value+':00'","title":"Time"}},
"y":{"field":"v","type":"quantitative","scale":{"domain":[-0.095,1.095],"nice":false,"zero":false},"axis":{"values":[0,0.5,1],"labels":false,"title":null}},
"color":{"field":"s","type":"nominal","scale":{"domain":["a","b","c","d","e","f","g","h","i","j"],"range":["#1f77b4","#1f77b4","#1f77b4","#1f77b4","#1f77b4","#ff7f0e","#ff7f0e","#ff7f0e","#ff7f0e","#ff7f0e"]},"legend":null}}}
],
"config":{
"font":"DejaVu Sans",
"view":{"stroke":null,"continuousWidth":284,"continuousHeight":146},
"line":{"strokeWidth":2},
"axis":{"grid":false,"domainColor":"#000","domainWidth":1.1,"tickColor":"#000","tickWidth":1.1,"tickSize":5,"labelFontSize":14,"labelColor":"#000","labelFont":"DejaVu Sans","labelFlush":false,"labelOverlap":false,"labelPadding":4,"titleFontSize":14,"titleFontWeight":"normal","titleColor":"#000","titleFont":"DejaVu Sans","titlePadding":3},
"axisY":{"labelPadding":5},
"title":{"fontSize":17.5,"font":"DejaVu Sans","fontWeight":"normal","color":"#000","anchor":"middle","frame":"group","offset":8,"baseline":"alphabetic"}
}
}
